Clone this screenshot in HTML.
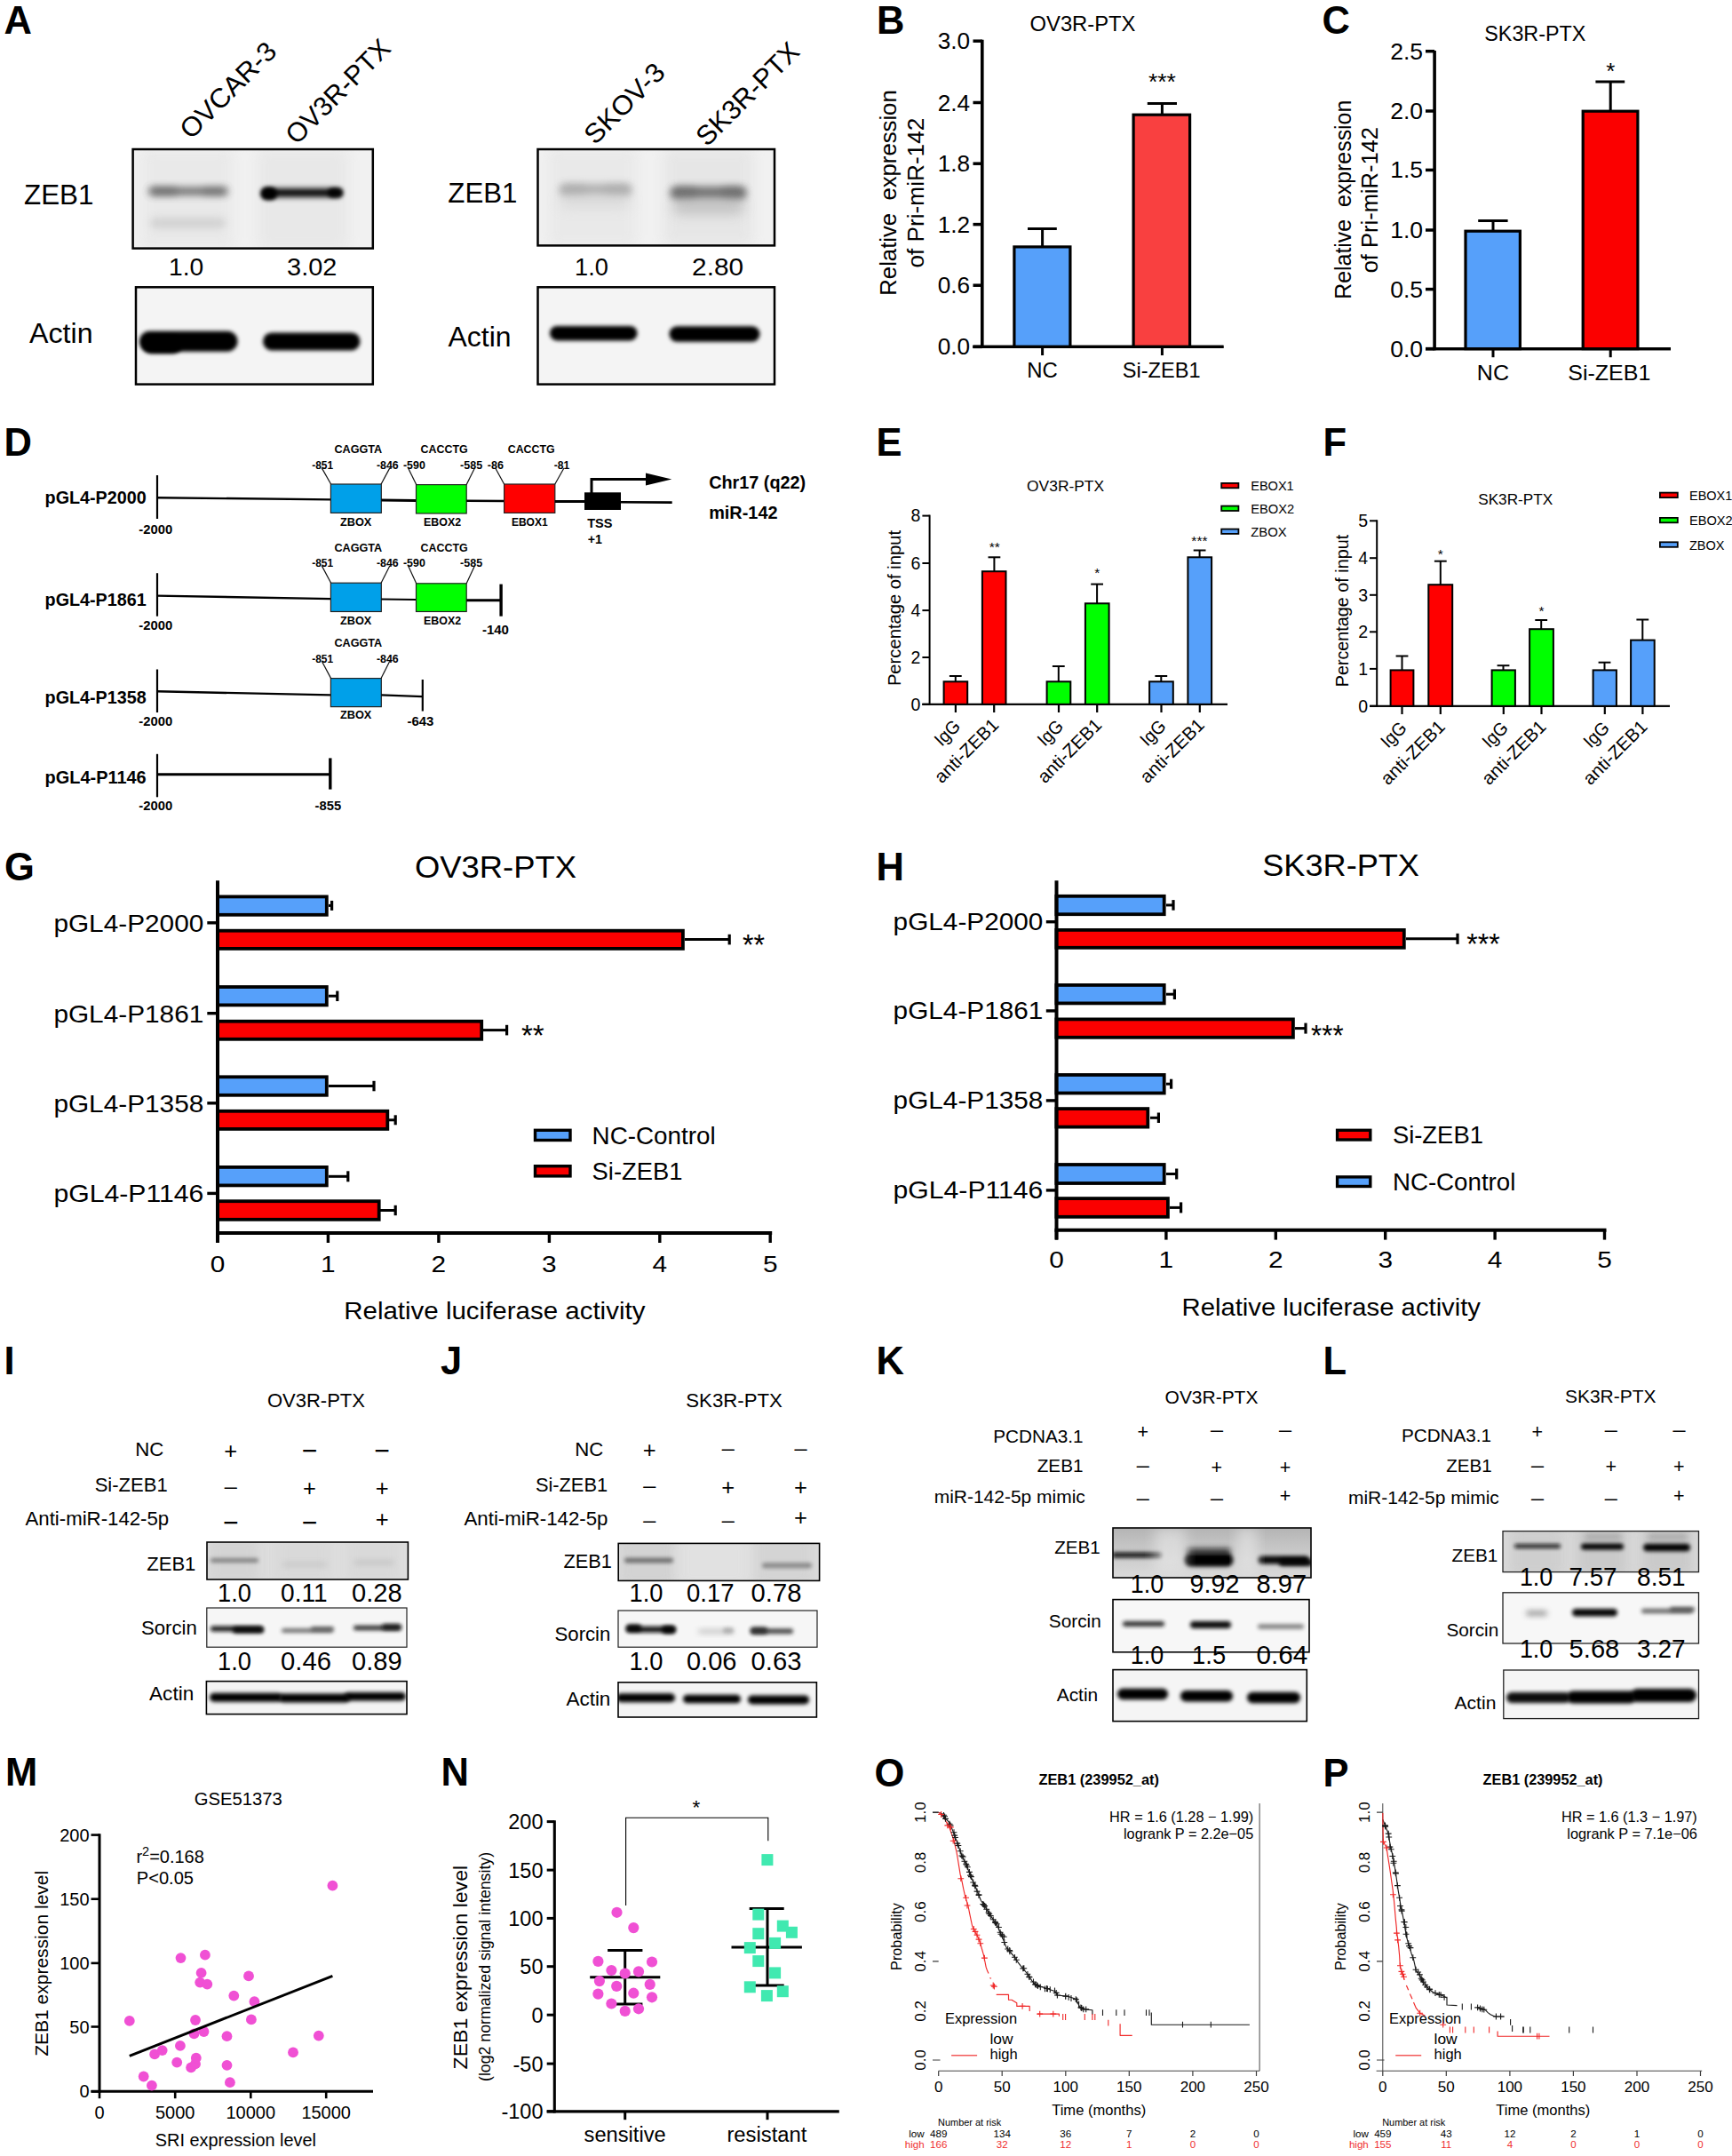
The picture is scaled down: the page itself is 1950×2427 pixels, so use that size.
<!DOCTYPE html>
<html><head><meta charset="utf-8"><title>Figure</title>
<style>
html,body{margin:0;padding:0;background:#fff;}
svg{display:block}
text{font-family:"Liberation Sans", Arial, Helvetica, sans-serif;white-space:pre}
</style></head><body>
<svg width="1950" height="2427" viewBox="0 0 1950 2427">
<defs>
<filter id="bl1" x="-30%" y="-100%" width="160%" height="300%"><feGaussianBlur stdDeviation="1.2"/></filter>
<filter id="bl2" x="-30%" y="-100%" width="160%" height="300%"><feGaussianBlur stdDeviation="2.0"/></filter>
<filter id="bl3" x="-30%" y="-100%" width="160%" height="300%"><feGaussianBlur stdDeviation="3.0"/></filter>
<filter id="bl4" x="-30%" y="-100%" width="160%" height="300%"><feGaussianBlur stdDeviation="4.5"/></filter>
<filter id="bl6" x="-30%" y="-100%" width="160%" height="300%"><feGaussianBlur stdDeviation="7"/></filter>
<clipPath id="cp1"><rect x="149.6" y="168.0" width="270.2" height="111.6"/></clipPath>
<clipPath id="cp2"><rect x="153.0" y="323.3" width="266.8" height="109.3"/></clipPath>
<clipPath id="cp3"><rect x="605.5" y="168.0" width="266.5" height="108.4"/></clipPath>
<clipPath id="cp4"><rect x="605.5" y="323.3" width="266.5" height="109.3"/></clipPath>
<clipPath id="cp5"><rect x="233.0" y="1736.0" width="226.4" height="42.0"/></clipPath>
<clipPath id="cp6"><rect x="232.8" y="1810.0" width="225.2" height="44.2"/></clipPath>
<clipPath id="cp7"><rect x="232.4" y="1892.6" width="225.6" height="37.0"/></clipPath>
<clipPath id="cp8"><rect x="696.2" y="1737.4" width="226.4" height="42.0"/></clipPath>
<clipPath id="cp9"><rect x="696.0" y="1813.0" width="224.0" height="41.2"/></clipPath>
<clipPath id="cp10"><rect x="696.0" y="1893.8" width="223.4" height="39.2"/></clipPath>
<linearGradient id="kg" x1="0" y1="0" x2="0" y2="1"><stop offset="0" stop-color="#b4b4b4"/><stop offset="0.35" stop-color="#c4c4c4"/><stop offset="1" stop-color="#dadada"/></linearGradient>
<clipPath id="cp11"><rect x="1253.0" y="1720.0" width="223.0" height="56.0"/></clipPath>
<clipPath id="cp12"><rect x="1253.0" y="1800.6" width="221.0" height="59.2"/></clipPath>
<clipPath id="cp13"><rect x="1253.0" y="1879.6" width="218.3" height="58.0"/></clipPath>
<clipPath id="cp14"><rect x="1692.0" y="1723.6" width="220.5" height="46.0"/></clipPath>
<clipPath id="cp15"><rect x="1692.0" y="1792.8" width="220.5" height="57.2"/></clipPath>
<clipPath id="cp16"><rect x="1692.8" y="1880.0" width="219.7" height="54.6"/></clipPath>
</defs>
<rect x="0" y="0" width="1950" height="2427" fill="#fff"/>
<text x="4.5" y="37.5" font-size="43.5" font-weight="bold">A</text>
<rect x="149.6" y="168.0" width="270.2" height="111.6" fill="#f1f1f1"/>
<g clip-path="url(#cp1)">
<rect x="160.0" y="168.0" width="102.0" height="112.0" rx="5.0" fill="#d8d8d8" opacity="0.3" filter="url(#bl6)"/>
<rect x="290.0" y="168.0" width="102.0" height="112.0" rx="5.0" fill="#d8d8d8" opacity="0.33" filter="url(#bl6)"/>
<rect x="168.0" y="211.1" width="88.0" height="8.5" rx="4.2" fill="#4a4a4a" opacity="0.8" filter="url(#bl4)"/>
<rect x="168.0" y="210.8" width="32.0" height="9.0" rx="4.5" fill="#4a4a4a" opacity="0.35" filter="url(#bl4)"/>
<rect x="228.0" y="210.8" width="28.0" height="9.0" rx="4.5" fill="#4a4a4a" opacity="0.25" filter="url(#bl4)"/>
<rect x="169.0" y="245.0" width="85.0" height="12.0" rx="6.0" fill="#bbb" opacity="0.5" filter="url(#bl4)"/>
<rect x="295.0" y="212.2" width="90.0" height="9.5" rx="4.8" fill="#000" opacity="1" filter="url(#bl3)"/>
<rect x="293.5" y="210.8" width="18.5" height="14.5" rx="7.2" fill="#000" opacity="1" filter="url(#bl2)"/>
<rect x="369.0" y="211.8" width="17.0" height="10.5" rx="5.2" fill="#000" opacity="0.9" filter="url(#bl2)"/>
</g>
<rect x="149.6" y="168.0" width="270.2" height="111.6" fill="none" stroke="#000" stroke-width="2.5"/>
<rect x="153.0" y="323.3" width="266.8" height="109.3" fill="#f4f4f4"/>
<g clip-path="url(#cp2)">
<rect x="157.0" y="372.7" width="110.5" height="23.0" rx="11.5" fill="#000" opacity="1" filter="url(#bl2)"/>
<rect x="160.0" y="378.0" width="45.0" height="20.0" rx="10.0" fill="#000" opacity="1" filter="url(#bl2)"/>
<rect x="296.0" y="374.4" width="109.5" height="20.0" rx="10.0" fill="#000" opacity="1" filter="url(#bl2)"/>
</g>
<rect x="153.0" y="323.3" width="266.8" height="109.3" fill="none" stroke="#000" stroke-width="2.5"/>
<text x="27.0" y="230.3" font-size="30.5" textLength="78.5" lengthAdjust="spacingAndGlyphs">ZEB1</text>
<text x="33.1" y="386.2" font-size="30.5" textLength="71.5" lengthAdjust="spacingAndGlyphs">Actin</text>
<text x="190.1" y="309.5" font-size="27.5" textLength="39.2" lengthAdjust="spacingAndGlyphs">1.0</text>
<text x="323.1" y="309.5" font-size="27.5" textLength="56.2" lengthAdjust="spacingAndGlyphs">3.02</text>
<text font-size="30.5" text-anchor="start" transform="translate(215.0 158.0) rotate(-45)" textLength="139.0" lengthAdjust="spacingAndGlyphs">OVCAR-3</text>
<text font-size="30.5" text-anchor="start" transform="translate(334.0 164.0) rotate(-45)" textLength="152.0" lengthAdjust="spacingAndGlyphs">OV3R-PTX</text>
<rect x="605.5" y="168.0" width="266.5" height="108.4" fill="#f1f1f1"/>
<g clip-path="url(#cp3)">
<rect x="618.0" y="167.0" width="98.0" height="110.0" rx="5.0" fill="#d8d8d8" opacity="0.3" filter="url(#bl6)"/>
<rect x="747.0" y="167.0" width="101.0" height="110.0" rx="5.0" fill="#d8d8d8" opacity="0.4" filter="url(#bl6)"/>
<rect x="630.0" y="207.1" width="81.0" height="13.0" rx="6.5" fill="#999" opacity="0.7" filter="url(#bl4)"/>
<rect x="630.0" y="207.1" width="30.0" height="13.0" rx="6.5" fill="#999" opacity="0.25" filter="url(#bl4)"/>
<rect x="680.0" y="207.1" width="31.0" height="13.0" rx="6.5" fill="#999" opacity="0.25" filter="url(#bl4)"/>
<rect x="630.0" y="218.0" width="80.0" height="16.0" rx="8.0" fill="#ccc" opacity="0.5" filter="url(#bl6)"/>
<rect x="755.0" y="210.0" width="85.0" height="14.0" rx="7.0" fill="#555" opacity="0.8" filter="url(#bl4)"/>
<rect x="755.0" y="210.0" width="30.0" height="14.0" rx="7.0" fill="#555" opacity="0.3" filter="url(#bl4)"/>
<rect x="812.0" y="210.0" width="28.0" height="14.0" rx="7.0" fill="#555" opacity="0.3" filter="url(#bl4)"/>
<rect x="757.0" y="223.0" width="81.0" height="18.0" rx="9.0" fill="#aaa" opacity="0.6" filter="url(#bl6)"/>
</g>
<rect x="605.5" y="168.0" width="266.5" height="108.4" fill="none" stroke="#000" stroke-width="2.5"/>
<rect x="605.5" y="323.3" width="266.5" height="109.3" fill="#f4f4f4"/>
<g clip-path="url(#cp4)">
<rect x="619.0" y="366.9" width="98.5" height="16.5" rx="8.2" fill="#000" opacity="1" filter="url(#bl2)"/>
<rect x="753.5" y="367.2" width="102.0" height="17.5" rx="8.8" fill="#000" opacity="1" filter="url(#bl2)"/>
</g>
<rect x="605.5" y="323.3" width="266.5" height="109.3" fill="none" stroke="#000" stroke-width="2.5"/>
<text x="504.3" y="227.7" font-size="30.5" textLength="78.2" lengthAdjust="spacingAndGlyphs">ZEB1</text>
<text x="504.5" y="390.2" font-size="30.5" textLength="71.0" lengthAdjust="spacingAndGlyphs">Actin</text>
<text x="647.1" y="309.5" font-size="27.5" textLength="37.8" lengthAdjust="spacingAndGlyphs">1.0</text>
<text x="779.1" y="309.5" font-size="27.5" textLength="58.0" lengthAdjust="spacingAndGlyphs">2.80</text>
<text font-size="30.5" text-anchor="start" transform="translate(670.0 164.0) rotate(-45)" textLength="114.0" lengthAdjust="spacingAndGlyphs">SKOV-3</text>
<text font-size="30.5" text-anchor="start" transform="translate(796.0 166.0) rotate(-45)" textLength="150.0" lengthAdjust="spacingAndGlyphs">SK3R-PTX</text>
<text x="987.0" y="37.5" font-size="43.5" font-weight="bold">B</text>
<text x="1219.0" y="35.4" font-size="23.5" text-anchor="middle" textLength="119.0" lengthAdjust="spacingAndGlyphs">OV3R-PTX</text>
<line x1="1105.8" y1="44.7" x2="1105.8" y2="392.0" stroke="#000" stroke-width="3.6" stroke-linecap="butt"/>
<line x1="1095.5" y1="390.4" x2="1377.5" y2="390.4" stroke="#000" stroke-width="3.4" stroke-linecap="butt"/>
<line x1="1095.5" y1="46.2" x2="1105.8" y2="46.2" stroke="#000" stroke-width="3.5" stroke-linecap="butt"/>
<text x="1055.7" y="55.2" font-size="26.0" textLength="36.4" lengthAdjust="spacingAndGlyphs">3.0</text>
<line x1="1095.5" y1="115.5" x2="1105.8" y2="115.5" stroke="#000" stroke-width="3.5" stroke-linecap="butt"/>
<text x="1055.7" y="124.5" font-size="26.0" textLength="36.4" lengthAdjust="spacingAndGlyphs">2.4</text>
<line x1="1095.5" y1="184.2" x2="1105.8" y2="184.2" stroke="#000" stroke-width="3.5" stroke-linecap="butt"/>
<text x="1055.7" y="193.2" font-size="26.0" textLength="36.4" lengthAdjust="spacingAndGlyphs">1.8</text>
<line x1="1095.5" y1="252.6" x2="1105.8" y2="252.6" stroke="#000" stroke-width="3.5" stroke-linecap="butt"/>
<text x="1055.7" y="261.6" font-size="26.0" textLength="36.4" lengthAdjust="spacingAndGlyphs">1.2</text>
<line x1="1095.5" y1="321.2" x2="1105.8" y2="321.2" stroke="#000" stroke-width="3.5" stroke-linecap="butt"/>
<text x="1055.7" y="330.2" font-size="26.0" textLength="36.4" lengthAdjust="spacingAndGlyphs">0.6</text>
<line x1="1095.5" y1="390.4" x2="1105.8" y2="390.4" stroke="#000" stroke-width="3.5" stroke-linecap="butt"/>
<text x="1055.7" y="399.4" font-size="26.0" textLength="36.4" lengthAdjust="spacingAndGlyphs">0.0</text>
<line x1="1173.6" y1="390.4" x2="1173.6" y2="400.0" stroke="#000" stroke-width="3" stroke-linecap="butt"/>
<line x1="1308.4" y1="390.4" x2="1308.4" y2="400.0" stroke="#000" stroke-width="3" stroke-linecap="butt"/>
<line x1="1173.6" y1="257.5" x2="1173.6" y2="278.0" stroke="#000" stroke-width="3" stroke-linecap="butt"/>
<line x1="1157.0" y1="257.5" x2="1189.8" y2="257.5" stroke="#000" stroke-width="3" stroke-linecap="butt"/>
<line x1="1308.4" y1="116.5" x2="1308.4" y2="130.0" stroke="#000" stroke-width="3" stroke-linecap="butt"/>
<line x1="1291.8" y1="116.5" x2="1325.0" y2="116.5" stroke="#000" stroke-width="3" stroke-linecap="butt"/>
<rect x="1141.9" y="277.9" width="63.0" height="112.5" fill="#56a0fa" stroke="#000" stroke-width="3.2"/>
<rect x="1276.1" y="129.2" width="63.5" height="261.2" fill="#f94040" stroke="#000" stroke-width="3.2"/>
<line x1="1095.5" y1="390.4" x2="1377.5" y2="390.4" stroke="#000" stroke-width="3.4" stroke-linecap="butt"/>
<text x="1156.3" y="425.2" font-size="24.5" textLength="34.5" lengthAdjust="spacingAndGlyphs">NC</text>
<text x="1263.8" y="425.2" font-size="24.5" textLength="87.7" lengthAdjust="spacingAndGlyphs">Si-ZEB1</text>
<text x="1308.4" y="100.5" font-size="26.0" text-anchor="middle" textLength="31.0" lengthAdjust="spacingAndGlyphs">***</text>
<text font-size="25.5" textLength="231.4" lengthAdjust="spacingAndGlyphs" transform="translate(1009.2 332.7) rotate(-90)">Relative  expression</text>
<text font-size="25.5" textLength="168.8" lengthAdjust="spacingAndGlyphs" transform="translate(1039.6 301.5) rotate(-90)">of Pri-miR-142</text>
<text x="1488.5" y="37.5" font-size="43.5" font-weight="bold">C</text>
<text x="1728.3" y="45.7" font-size="23.5" text-anchor="middle" textLength="114.0" lengthAdjust="spacingAndGlyphs">SK3R-PTX</text>
<line x1="1615.1" y1="56.9" x2="1615.1" y2="394.2" stroke="#000" stroke-width="3.6" stroke-linecap="butt"/>
<line x1="1605.0" y1="392.6" x2="1881.0" y2="392.6" stroke="#000" stroke-width="3.4" stroke-linecap="butt"/>
<line x1="1605.0" y1="57.7" x2="1615.1" y2="57.7" stroke="#000" stroke-width="3.5" stroke-linecap="butt"/>
<text x="1565.2" y="66.7" font-size="26.0" textLength="36.9" lengthAdjust="spacingAndGlyphs">2.5</text>
<line x1="1605.0" y1="125.0" x2="1615.1" y2="125.0" stroke="#000" stroke-width="3.5" stroke-linecap="butt"/>
<text x="1565.2" y="134.0" font-size="26.0" textLength="36.9" lengthAdjust="spacingAndGlyphs">2.0</text>
<line x1="1605.0" y1="191.4" x2="1615.1" y2="191.4" stroke="#000" stroke-width="3.5" stroke-linecap="butt"/>
<text x="1565.2" y="200.4" font-size="26.0" textLength="36.9" lengthAdjust="spacingAndGlyphs">1.5</text>
<line x1="1605.0" y1="259.0" x2="1615.1" y2="259.0" stroke="#000" stroke-width="3.5" stroke-linecap="butt"/>
<text x="1565.2" y="268.0" font-size="26.0" textLength="36.9" lengthAdjust="spacingAndGlyphs">1.0</text>
<line x1="1605.0" y1="325.6" x2="1615.1" y2="325.6" stroke="#000" stroke-width="3.5" stroke-linecap="butt"/>
<text x="1565.2" y="334.6" font-size="26.0" textLength="36.9" lengthAdjust="spacingAndGlyphs">0.5</text>
<line x1="1605.0" y1="392.6" x2="1615.1" y2="392.6" stroke="#000" stroke-width="3.5" stroke-linecap="butt"/>
<text x="1565.2" y="401.6" font-size="26.0" textLength="36.9" lengthAdjust="spacingAndGlyphs">0.0</text>
<line x1="1681.0" y1="392.6" x2="1681.0" y2="402.2" stroke="#000" stroke-width="3" stroke-linecap="butt"/>
<line x1="1813.2" y1="392.6" x2="1813.2" y2="402.2" stroke="#000" stroke-width="3" stroke-linecap="butt"/>
<line x1="1681.0" y1="248.5" x2="1681.0" y2="261.0" stroke="#000" stroke-width="3" stroke-linecap="butt"/>
<line x1="1664.2" y1="248.5" x2="1697.6" y2="248.5" stroke="#000" stroke-width="3" stroke-linecap="butt"/>
<line x1="1813.2" y1="92.0" x2="1813.2" y2="126.0" stroke="#000" stroke-width="3" stroke-linecap="butt"/>
<line x1="1796.4" y1="92.0" x2="1829.2" y2="92.0" stroke="#000" stroke-width="3" stroke-linecap="butt"/>
<rect x="1650.0" y="260.2" width="61.4" height="132.4" fill="#56a0fa" stroke="#000" stroke-width="3.2"/>
<rect x="1782.2" y="125.2" width="61.7" height="267.4" fill="#fb0000" stroke="#000" stroke-width="3.2"/>
<line x1="1605.0" y1="392.6" x2="1881.0" y2="392.6" stroke="#000" stroke-width="3.4" stroke-linecap="butt"/>
<text x="1662.8" y="427.5" font-size="24.5" textLength="36.2" lengthAdjust="spacingAndGlyphs">NC</text>
<text x="1765.3" y="427.5" font-size="24.5" textLength="93.0" lengthAdjust="spacingAndGlyphs">Si-ZEB1</text>
<text x="1813.2" y="88.5" font-size="26.0" text-anchor="middle">*</text>
<text font-size="25.5" textLength="224.1" lengthAdjust="spacingAndGlyphs" transform="translate(1520.9 336.8) rotate(-90)">Relative  expression</text>
<text font-size="25.5" textLength="164.2" lengthAdjust="spacingAndGlyphs" transform="translate(1551.2 307.3) rotate(-90)">of Pri-miR-142</text>
<text x="4.5" y="512.8" font-size="43.5" font-weight="bold">D</text>
<text x="50.6" y="566.8" font-size="19.6" textLength="114.1" lengthAdjust="spacingAndGlyphs" font-weight="bold">pGL4-P2000</text>
<line x1="177.0" y1="535.0" x2="177.0" y2="584.0" stroke="#000" stroke-width="2.2" stroke-linecap="butt"/>
<text x="156.3" y="601.4" font-size="14.5" textLength="37.9" lengthAdjust="spacingAndGlyphs" font-weight="bold">-2000</text>
<line x1="177.0" y1="560.2" x2="372.6" y2="562.4" stroke="#000" stroke-width="2.4" stroke-linecap="butt"/>
<rect x="372.4" y="545.0" width="56.9" height="32.4" fill="#00a0e9" stroke="#222" stroke-width="1.2"/>
<text x="376.4" y="510.0" font-size="12.2" textLength="53.8" lengthAdjust="spacingAndGlyphs" font-weight="bold">CAGGTA</text>
<text x="351.2" y="528.4" font-size="12.8" textLength="23.9" lengthAdjust="spacingAndGlyphs" font-weight="bold">-851</text>
<text x="424.0" y="528.4" font-size="12.8" textLength="24.7" lengthAdjust="spacingAndGlyphs" font-weight="bold">-846</text>
<line x1="362.3" y1="526.9" x2="372.6" y2="545.0" stroke="#111" stroke-width="1.2" stroke-linecap="butt"/>
<line x1="438.8" y1="526.9" x2="429.1" y2="545.0" stroke="#111" stroke-width="1.2" stroke-linecap="butt"/>
<text x="383.0" y="592.0" font-size="12.2" textLength="35.3" lengthAdjust="spacingAndGlyphs" font-weight="bold">ZBOX</text>
<text x="50.6" y="682.3" font-size="19.6" textLength="114.1" lengthAdjust="spacingAndGlyphs" font-weight="bold">pGL4-P1861</text>
<line x1="177.0" y1="645.2" x2="177.0" y2="693.7" stroke="#000" stroke-width="2.2" stroke-linecap="butt"/>
<text x="156.3" y="709.1" font-size="14.5" textLength="37.9" lengthAdjust="spacingAndGlyphs" font-weight="bold">-2000</text>
<line x1="177.0" y1="670.6" x2="372.6" y2="674.1" stroke="#000" stroke-width="2.4" stroke-linecap="butt"/>
<rect x="372.4" y="656.2" width="56.9" height="32.3" fill="#00a0e9" stroke="#222" stroke-width="1.2"/>
<text x="376.4" y="620.9" font-size="12.2" textLength="53.8" lengthAdjust="spacingAndGlyphs" font-weight="bold">CAGGTA</text>
<text x="351.2" y="638.4" font-size="12.8" textLength="23.9" lengthAdjust="spacingAndGlyphs" font-weight="bold">-851</text>
<text x="424.0" y="638.4" font-size="12.8" textLength="24.7" lengthAdjust="spacingAndGlyphs" font-weight="bold">-846</text>
<line x1="362.3" y1="636.9" x2="372.6" y2="656.2" stroke="#111" stroke-width="1.2" stroke-linecap="butt"/>
<line x1="438.8" y1="636.9" x2="429.1" y2="656.2" stroke="#111" stroke-width="1.2" stroke-linecap="butt"/>
<text x="383.0" y="702.5" font-size="12.2" textLength="35.3" lengthAdjust="spacingAndGlyphs" font-weight="bold">ZBOX</text>
<text x="50.6" y="792.0" font-size="19.6" textLength="114.1" lengthAdjust="spacingAndGlyphs" font-weight="bold">pGL4-P1358</text>
<line x1="177.0" y1="753.5" x2="177.0" y2="802.0" stroke="#000" stroke-width="2.2" stroke-linecap="butt"/>
<text x="156.3" y="816.5" font-size="14.5" textLength="37.9" lengthAdjust="spacingAndGlyphs" font-weight="bold">-2000</text>
<line x1="177.0" y1="778.3" x2="372.6" y2="782.4" stroke="#000" stroke-width="2.4" stroke-linecap="butt"/>
<rect x="372.4" y="763.6" width="56.9" height="32.0" fill="#00a0e9" stroke="#222" stroke-width="1.2"/>
<text x="376.4" y="728.0" font-size="12.2" textLength="53.8" lengthAdjust="spacingAndGlyphs" font-weight="bold">CAGGTA</text>
<text x="351.2" y="745.8" font-size="12.8" textLength="23.9" lengthAdjust="spacingAndGlyphs" font-weight="bold">-851</text>
<text x="424.0" y="745.8" font-size="12.8" textLength="24.7" lengthAdjust="spacingAndGlyphs" font-weight="bold">-846</text>
<line x1="362.3" y1="744.3" x2="372.6" y2="763.6" stroke="#111" stroke-width="1.2" stroke-linecap="butt"/>
<line x1="438.8" y1="744.3" x2="429.1" y2="763.6" stroke="#111" stroke-width="1.2" stroke-linecap="butt"/>
<text x="383.0" y="809.3" font-size="12.2" textLength="35.3" lengthAdjust="spacingAndGlyphs" font-weight="bold">ZBOX</text>
<text x="50.6" y="881.5" font-size="19.6" textLength="114.1" lengthAdjust="spacingAndGlyphs" font-weight="bold">pGL4-P1146</text>
<line x1="177.0" y1="848.8" x2="177.0" y2="897.3" stroke="#000" stroke-width="2.2" stroke-linecap="butt"/>
<text x="156.3" y="911.8" font-size="14.5" textLength="37.9" lengthAdjust="spacingAndGlyphs" font-weight="bold">-2000</text>
<line x1="429.3" y1="563.0" x2="468.5" y2="563.4" stroke="#000" stroke-width="3" stroke-linecap="butt"/>
<rect x="468.5" y="545.6" width="56.7" height="32.4" fill="#00ff00" stroke="#222" stroke-width="1.2"/>
<line x1="525.2" y1="563.8" x2="567.6" y2="564.0" stroke="#000" stroke-width="2.6" stroke-linecap="butt"/>
<rect x="567.6" y="545.0" width="57.2" height="32.4" fill="#ff0000" stroke="#222" stroke-width="1.2"/>
<line x1="624.8" y1="564.4" x2="658.0" y2="564.6" stroke="#000" stroke-width="3" stroke-linecap="butt"/>
<rect x="658.0" y="554.3" width="41.0" height="19.7" fill="#000" stroke="none" stroke-width="0"/>
<line x1="699.0" y1="565.2" x2="756.7" y2="565.6" stroke="#000" stroke-width="2.6" stroke-linecap="butt"/>
<path d="M666,555 V539.4 H728" fill="none" stroke="#000" stroke-width="3"/>
<path d="M727,532.6 L756.3,539.6 L727,546.6 Z" fill="#000"/>
<text x="473.6" y="510.0" font-size="12.2" textLength="53.0" lengthAdjust="spacingAndGlyphs" font-weight="bold">CACCTG</text>
<text x="571.8" y="510.0" font-size="12.2" textLength="52.7" lengthAdjust="spacingAndGlyphs" font-weight="bold">CACCTG</text>
<text x="454.0" y="528.4" font-size="12.8" textLength="24.8" lengthAdjust="spacingAndGlyphs" font-weight="bold">-590</text>
<text x="518.1" y="528.4" font-size="12.8" textLength="25.1" lengthAdjust="spacingAndGlyphs" font-weight="bold">-585</text>
<text x="548.7" y="528.4" font-size="12.8" textLength="18.2" lengthAdjust="spacingAndGlyphs" font-weight="bold">-86</text>
<text x="623.8" y="528.4" font-size="12.8" textLength="17.5" lengthAdjust="spacingAndGlyphs" font-weight="bold">-81</text>
<line x1="459.6" y1="527.0" x2="468.7" y2="545.6" stroke="#111" stroke-width="1.2" stroke-linecap="butt"/>
<line x1="534.4" y1="527.0" x2="525.2" y2="545.6" stroke="#111" stroke-width="1.2" stroke-linecap="butt"/>
<line x1="557.8" y1="527.0" x2="567.6" y2="545.0" stroke="#111" stroke-width="1.2" stroke-linecap="butt"/>
<line x1="634.9" y1="527.0" x2="624.8" y2="545.0" stroke="#111" stroke-width="1.2" stroke-linecap="butt"/>
<text x="477.1" y="592.0" font-size="12.2" textLength="42.0" lengthAdjust="spacingAndGlyphs" font-weight="bold">EBOX2</text>
<text x="575.9" y="592.0" font-size="12.2" textLength="40.8" lengthAdjust="spacingAndGlyphs" font-weight="bold">EBOX1</text>
<text x="661.2" y="593.7" font-size="14.2" textLength="28.3" lengthAdjust="spacingAndGlyphs" font-weight="bold">TSS</text>
<text x="661.8" y="611.6" font-size="14.2" textLength="16.2" lengthAdjust="spacingAndGlyphs" font-weight="bold">+1</text>
<text x="798.2" y="549.5" font-size="19.8" textLength="109.0" lengthAdjust="spacingAndGlyphs" font-weight="bold">Chr17 (q22)</text>
<text x="798.2" y="583.6" font-size="19.8" textLength="77.3" lengthAdjust="spacingAndGlyphs" font-weight="bold">miR-142</text>
<line x1="429.3" y1="674.4" x2="468.5" y2="675.0" stroke="#000" stroke-width="2" stroke-linecap="butt"/>
<rect x="468.5" y="656.8" width="56.7" height="31.7" fill="#00ff00" stroke="#222" stroke-width="1.2"/>
<line x1="525.2" y1="675.8" x2="564.1" y2="675.8" stroke="#000" stroke-width="3" stroke-linecap="butt"/>
<line x1="564.1" y1="657.6" x2="564.1" y2="693.7" stroke="#000" stroke-width="3.4" stroke-linecap="butt"/>
<text x="473.6" y="620.9" font-size="12.2" textLength="53.0" lengthAdjust="spacingAndGlyphs" font-weight="bold">CACCTG</text>
<text x="454.0" y="638.4" font-size="12.8" textLength="24.8" lengthAdjust="spacingAndGlyphs" font-weight="bold">-590</text>
<text x="518.1" y="638.4" font-size="12.8" textLength="25.1" lengthAdjust="spacingAndGlyphs" font-weight="bold">-585</text>
<line x1="459.6" y1="637.0" x2="468.7" y2="656.8" stroke="#111" stroke-width="1.2" stroke-linecap="butt"/>
<line x1="534.4" y1="637.0" x2="525.2" y2="656.8" stroke="#111" stroke-width="1.2" stroke-linecap="butt"/>
<text x="477.1" y="702.5" font-size="12.2" textLength="42.0" lengthAdjust="spacingAndGlyphs" font-weight="bold">EBOX2</text>
<text x="542.9" y="714.1" font-size="14.5" textLength="30.1" lengthAdjust="spacingAndGlyphs" font-weight="bold">-140</text>
<line x1="429.3" y1="782.4" x2="475.8" y2="784.1" stroke="#000" stroke-width="2.2" stroke-linecap="butt"/>
<line x1="475.8" y1="765.0" x2="475.8" y2="800.5" stroke="#000" stroke-width="2.2" stroke-linecap="butt"/>
<text x="458.5" y="816.5" font-size="14.5" textLength="29.8" lengthAdjust="spacingAndGlyphs" font-weight="bold">-643</text>
<line x1="177.0" y1="871.8" x2="371.8" y2="871.8" stroke="#000" stroke-width="3" stroke-linecap="butt"/>
<line x1="371.8" y1="853.4" x2="371.8" y2="888.6" stroke="#000" stroke-width="3.4" stroke-linecap="butt"/>
<text x="354.6" y="911.8" font-size="14.5" textLength="29.5" lengthAdjust="spacingAndGlyphs" font-weight="bold">-855</text>
<text x="986.5" y="512.8" font-size="43.5" font-weight="bold">E</text>
<text x="1199.6" y="553.2" font-size="17.0" text-anchor="middle" textLength="87.0" lengthAdjust="spacingAndGlyphs">OV3R-PTX</text>
<line x1="1046.6" y1="579.6" x2="1046.6" y2="793.8" stroke="#000" stroke-width="2" stroke-linecap="butt"/>
<line x1="1038.4" y1="792.8" x2="1382.0" y2="792.8" stroke="#000" stroke-width="2" stroke-linecap="butt"/>
<line x1="1038.4" y1="580.6" x2="1046.6" y2="580.6" stroke="#000" stroke-width="2" stroke-linecap="butt"/>
<text x="1036.4" y="587.4" font-size="19.5" text-anchor="end">8</text>
<line x1="1038.4" y1="634.0" x2="1046.6" y2="634.0" stroke="#000" stroke-width="2" stroke-linecap="butt"/>
<text x="1036.4" y="640.8" font-size="19.5" text-anchor="end">6</text>
<line x1="1038.4" y1="687.1" x2="1046.6" y2="687.1" stroke="#000" stroke-width="2" stroke-linecap="butt"/>
<text x="1036.4" y="693.9" font-size="19.5" text-anchor="end">4</text>
<line x1="1038.4" y1="740.0" x2="1046.6" y2="740.0" stroke="#000" stroke-width="2" stroke-linecap="butt"/>
<text x="1036.4" y="746.8" font-size="19.5" text-anchor="end">2</text>
<line x1="1038.4" y1="792.8" x2="1046.6" y2="792.8" stroke="#000" stroke-width="2" stroke-linecap="butt"/>
<text x="1036.4" y="799.6" font-size="19.5" text-anchor="end">0</text>
<line x1="1075.8" y1="761.0" x2="1075.8" y2="768.3" stroke="#000" stroke-width="2" stroke-linecap="butt"/>
<line x1="1068.9" y1="761.0" x2="1082.7" y2="761.0" stroke="#000" stroke-width="2" stroke-linecap="butt"/>
<line x1="1119.4" y1="627.3" x2="1119.4" y2="644.2" stroke="#000" stroke-width="2" stroke-linecap="butt"/>
<line x1="1112.5" y1="627.3" x2="1126.3" y2="627.3" stroke="#000" stroke-width="2" stroke-linecap="butt"/>
<line x1="1191.8" y1="750.0" x2="1191.8" y2="768.3" stroke="#000" stroke-width="2" stroke-linecap="butt"/>
<line x1="1184.9" y1="750.0" x2="1198.7" y2="750.0" stroke="#000" stroke-width="2" stroke-linecap="butt"/>
<line x1="1235.1" y1="657.6" x2="1235.1" y2="680.3" stroke="#000" stroke-width="2" stroke-linecap="butt"/>
<line x1="1228.2" y1="657.6" x2="1242.0" y2="657.6" stroke="#000" stroke-width="2" stroke-linecap="butt"/>
<line x1="1307.3" y1="761.0" x2="1307.3" y2="768.3" stroke="#000" stroke-width="2" stroke-linecap="butt"/>
<line x1="1300.4" y1="761.0" x2="1314.2" y2="761.0" stroke="#000" stroke-width="2" stroke-linecap="butt"/>
<line x1="1350.6" y1="619.5" x2="1350.6" y2="628.3" stroke="#000" stroke-width="2" stroke-linecap="butt"/>
<line x1="1343.7" y1="619.5" x2="1357.5" y2="619.5" stroke="#000" stroke-width="2" stroke-linecap="butt"/>
<rect x="1062.6" y="767.3" width="26.6" height="25.5" fill="#ff0000" stroke="#000" stroke-width="2"/>
<line x1="1075.9" y1="792.8" x2="1075.9" y2="802.0" stroke="#000" stroke-width="2.2" stroke-linecap="butt"/>
<rect x="1105.9" y="643.2" width="26.6" height="149.6" fill="#ff0000" stroke="#000" stroke-width="2"/>
<line x1="1119.2" y1="792.8" x2="1119.2" y2="802.0" stroke="#000" stroke-width="2.2" stroke-linecap="butt"/>
<rect x="1178.6" y="767.3" width="26.7" height="25.5" fill="#00ff00" stroke="#000" stroke-width="2"/>
<line x1="1192.0" y1="792.8" x2="1192.0" y2="802.0" stroke="#000" stroke-width="2.2" stroke-linecap="butt"/>
<rect x="1221.9" y="679.3" width="26.7" height="113.5" fill="#00ff00" stroke="#000" stroke-width="2"/>
<line x1="1235.2" y1="792.8" x2="1235.2" y2="802.0" stroke="#000" stroke-width="2.2" stroke-linecap="butt"/>
<rect x="1294.1" y="767.3" width="26.7" height="25.5" fill="#56a0fa" stroke="#000" stroke-width="2"/>
<line x1="1307.5" y1="792.8" x2="1307.5" y2="802.0" stroke="#000" stroke-width="2.2" stroke-linecap="butt"/>
<rect x="1337.4" y="627.3" width="26.7" height="165.5" fill="#56a0fa" stroke="#000" stroke-width="2"/>
<line x1="1350.8" y1="792.8" x2="1350.8" y2="802.0" stroke="#000" stroke-width="2.2" stroke-linecap="butt"/>
<line x1="1038.4" y1="792.8" x2="1382.0" y2="792.8" stroke="#000" stroke-width="1.8" stroke-linecap="butt"/>
<text font-size="20.5" text-anchor="end" transform="translate(1082.4 818.8) rotate(-45)" textLength="31.5" lengthAdjust="spacingAndGlyphs">IgG</text>
<text font-size="20.5" text-anchor="end" transform="translate(1125.7 817.3) rotate(-45)" textLength="92.5" lengthAdjust="spacingAndGlyphs">anti-ZEB1</text>
<text font-size="20.5" text-anchor="end" transform="translate(1198.5 818.8) rotate(-45)" textLength="31.5" lengthAdjust="spacingAndGlyphs">IgG</text>
<text font-size="20.5" text-anchor="end" transform="translate(1241.8 817.3) rotate(-45)" textLength="92.5" lengthAdjust="spacingAndGlyphs">anti-ZEB1</text>
<text font-size="20.5" text-anchor="end" transform="translate(1314.0 818.8) rotate(-45)" textLength="31.5" lengthAdjust="spacingAndGlyphs">IgG</text>
<text font-size="20.5" text-anchor="end" transform="translate(1357.2 817.3) rotate(-45)" textLength="92.5" lengthAdjust="spacingAndGlyphs">anti-ZEB1</text>
<text x="1119.8" y="621.3" font-size="15.5" text-anchor="middle">**</text>
<text x="1235.2" y="650.0" font-size="15.5" text-anchor="middle">*</text>
<text x="1350.4" y="614.0" font-size="15.5" text-anchor="middle">***</text>
<text font-size="20.0" textLength="175.2" lengthAdjust="spacingAndGlyphs" transform="translate(1014.2 772.1) rotate(-90)">Percentage of input</text>
<rect x="1375.2" y="543.9" width="19.2" height="5.4" fill="#ff0000" stroke="#000" stroke-width="1.8"/>
<text x="1408.2" y="552.4" font-size="14.2" textLength="48.5" lengthAdjust="spacingAndGlyphs">EBOX1</text>
<rect x="1375.2" y="569.6" width="19.2" height="5.4" fill="#00ff00" stroke="#000" stroke-width="1.8"/>
<text x="1408.2" y="577.8" font-size="14.2" textLength="49.0" lengthAdjust="spacingAndGlyphs">EBOX2</text>
<rect x="1375.2" y="595.6" width="19.2" height="5.3" fill="#56a0fa" stroke="#000" stroke-width="1.8"/>
<text x="1408.2" y="603.5" font-size="14.2" textLength="40.4" lengthAdjust="spacingAndGlyphs">ZBOX</text>
<text x="1489.5" y="512.8" font-size="43.5" font-weight="bold">F</text>
<text x="1706.2" y="567.7" font-size="17.0" text-anchor="middle" textLength="84.0" lengthAdjust="spacingAndGlyphs">SK3R-PTX</text>
<line x1="1550.2" y1="585.3" x2="1550.2" y2="795.8" stroke="#000" stroke-width="2" stroke-linecap="butt"/>
<line x1="1542.0" y1="794.8" x2="1880.0" y2="794.8" stroke="#000" stroke-width="2" stroke-linecap="butt"/>
<line x1="1542.0" y1="586.3" x2="1550.2" y2="586.3" stroke="#000" stroke-width="2" stroke-linecap="butt"/>
<text x="1540.0" y="593.1" font-size="19.5" text-anchor="end">5</text>
<line x1="1542.0" y1="628.2" x2="1550.2" y2="628.2" stroke="#000" stroke-width="2" stroke-linecap="butt"/>
<text x="1540.0" y="635.0" font-size="19.5" text-anchor="end">4</text>
<line x1="1542.0" y1="669.8" x2="1550.2" y2="669.8" stroke="#000" stroke-width="2" stroke-linecap="butt"/>
<text x="1540.0" y="676.6" font-size="19.5" text-anchor="end">3</text>
<line x1="1542.0" y1="711.3" x2="1550.2" y2="711.3" stroke="#000" stroke-width="2" stroke-linecap="butt"/>
<text x="1540.0" y="718.1" font-size="19.5" text-anchor="end">2</text>
<line x1="1542.0" y1="752.9" x2="1550.2" y2="752.9" stroke="#000" stroke-width="2" stroke-linecap="butt"/>
<text x="1540.0" y="759.7" font-size="19.5" text-anchor="end">1</text>
<line x1="1542.0" y1="794.8" x2="1550.2" y2="794.8" stroke="#000" stroke-width="2" stroke-linecap="butt"/>
<text x="1540.0" y="801.6" font-size="19.5" text-anchor="end">0</text>
<line x1="1578.5" y1="738.5" x2="1578.5" y2="755.4" stroke="#000" stroke-width="2" stroke-linecap="butt"/>
<line x1="1571.6" y1="738.5" x2="1585.4" y2="738.5" stroke="#000" stroke-width="2" stroke-linecap="butt"/>
<line x1="1621.8" y1="631.7" x2="1621.8" y2="659.2" stroke="#000" stroke-width="2" stroke-linecap="butt"/>
<line x1="1614.9" y1="631.7" x2="1628.7" y2="631.7" stroke="#000" stroke-width="2" stroke-linecap="butt"/>
<line x1="1692.5" y1="749.2" x2="1692.5" y2="755.4" stroke="#000" stroke-width="2" stroke-linecap="butt"/>
<line x1="1685.6" y1="749.2" x2="1699.4" y2="749.2" stroke="#000" stroke-width="2" stroke-linecap="butt"/>
<line x1="1735.2" y1="698.0" x2="1735.2" y2="709.2" stroke="#000" stroke-width="2" stroke-linecap="butt"/>
<line x1="1728.3" y1="698.0" x2="1742.1" y2="698.0" stroke="#000" stroke-width="2" stroke-linecap="butt"/>
<line x1="1806.5" y1="745.7" x2="1806.5" y2="755.4" stroke="#000" stroke-width="2" stroke-linecap="butt"/>
<line x1="1799.6" y1="745.7" x2="1813.4" y2="745.7" stroke="#000" stroke-width="2" stroke-linecap="butt"/>
<line x1="1849.3" y1="697.5" x2="1849.3" y2="721.6" stroke="#000" stroke-width="2" stroke-linecap="butt"/>
<line x1="1842.4" y1="697.5" x2="1856.2" y2="697.5" stroke="#000" stroke-width="2" stroke-linecap="butt"/>
<rect x="1565.6" y="754.4" width="25.8" height="40.4" fill="#ff0000" stroke="#000" stroke-width="2"/>
<line x1="1578.5" y1="794.8" x2="1578.5" y2="804.0" stroke="#000" stroke-width="2.2" stroke-linecap="butt"/>
<rect x="1608.3" y="658.2" width="26.9" height="136.6" fill="#ff0000" stroke="#000" stroke-width="2"/>
<line x1="1621.8" y1="794.8" x2="1621.8" y2="804.0" stroke="#000" stroke-width="2.2" stroke-linecap="butt"/>
<rect x="1679.6" y="754.4" width="26.3" height="40.4" fill="#00ff00" stroke="#000" stroke-width="2"/>
<line x1="1692.8" y1="794.8" x2="1692.8" y2="804.0" stroke="#000" stroke-width="2.2" stroke-linecap="butt"/>
<rect x="1722.1" y="708.2" width="26.8" height="86.6" fill="#00ff00" stroke="#000" stroke-width="2"/>
<line x1="1735.5" y1="794.8" x2="1735.5" y2="804.0" stroke="#000" stroke-width="2.2" stroke-linecap="butt"/>
<rect x="1793.6" y="754.4" width="26.3" height="40.4" fill="#56a0fa" stroke="#000" stroke-width="2"/>
<line x1="1806.8" y1="794.8" x2="1806.8" y2="804.0" stroke="#000" stroke-width="2.2" stroke-linecap="butt"/>
<rect x="1836.1" y="720.6" width="26.6" height="74.2" fill="#56a0fa" stroke="#000" stroke-width="2"/>
<line x1="1849.4" y1="794.8" x2="1849.4" y2="804.0" stroke="#000" stroke-width="2.2" stroke-linecap="butt"/>
<line x1="1542.0" y1="794.8" x2="1880.0" y2="794.8" stroke="#000" stroke-width="1.8" stroke-linecap="butt"/>
<text font-size="20.5" text-anchor="end" transform="translate(1585.0 820.8) rotate(-45)" textLength="31.5" lengthAdjust="spacingAndGlyphs">IgG</text>
<text font-size="20.5" text-anchor="end" transform="translate(1628.2 819.3) rotate(-45)" textLength="92.5" lengthAdjust="spacingAndGlyphs">anti-ZEB1</text>
<text font-size="20.5" text-anchor="end" transform="translate(1699.2 820.8) rotate(-45)" textLength="31.5" lengthAdjust="spacingAndGlyphs">IgG</text>
<text font-size="20.5" text-anchor="end" transform="translate(1742.0 819.3) rotate(-45)" textLength="92.5" lengthAdjust="spacingAndGlyphs">anti-ZEB1</text>
<text font-size="20.5" text-anchor="end" transform="translate(1813.2 820.8) rotate(-45)" textLength="31.5" lengthAdjust="spacingAndGlyphs">IgG</text>
<text font-size="20.5" text-anchor="end" transform="translate(1855.9 819.3) rotate(-45)" textLength="92.5" lengthAdjust="spacingAndGlyphs">anti-ZEB1</text>
<text x="1621.8" y="628.5" font-size="15.5" text-anchor="middle">*</text>
<text x="1735.4" y="693.0" font-size="15.5" text-anchor="middle">*</text>
<text font-size="20.0" textLength="171.5" lengthAdjust="spacingAndGlyphs" transform="translate(1518.3 773.3) rotate(-90)">Percentage of input</text>
<rect x="1868.9" y="554.6" width="19.9" height="5.5" fill="#ff0000" stroke="#000" stroke-width="1.8"/>
<text x="1902.0" y="563.1" font-size="14.2" textLength="48.2" lengthAdjust="spacingAndGlyphs">EBOX1</text>
<rect x="1868.9" y="582.9" width="19.9" height="5.4" fill="#00ff00" stroke="#000" stroke-width="1.8"/>
<text x="1902.0" y="591.0" font-size="14.2" textLength="48.7" lengthAdjust="spacingAndGlyphs">EBOX2</text>
<rect x="1868.9" y="610.3" width="19.9" height="5.5" fill="#56a0fa" stroke="#000" stroke-width="1.8"/>
<text x="1902.0" y="618.6" font-size="14.2" textLength="39.5" lengthAdjust="spacingAndGlyphs">ZBOX</text>
<text x="5.0" y="990.7" font-size="43.5" font-weight="bold">G</text>
<text x="467.0" y="987.8" font-size="35.5" textLength="182.0" lengthAdjust="spacingAndGlyphs">OV3R-PTX</text>
<rect x="244.9" y="1009.4" width="122.9" height="20.4" fill="#56a0fa" stroke="#000" stroke-width="3.8"/>
<rect x="244.9" y="1047.7" width="524.0" height="20.2" fill="#fb0000" stroke="#000" stroke-width="3.8"/>
<rect x="244.9" y="1111.0" width="122.9" height="20.4" fill="#56a0fa" stroke="#000" stroke-width="3.8"/>
<rect x="244.9" y="1149.7" width="297.3" height="20.1" fill="#fb0000" stroke="#000" stroke-width="3.8"/>
<rect x="244.9" y="1212.3" width="122.9" height="20.5" fill="#56a0fa" stroke="#000" stroke-width="3.8"/>
<rect x="244.9" y="1250.8" width="191.4" height="20.1" fill="#fb0000" stroke="#000" stroke-width="3.8"/>
<rect x="244.9" y="1313.9" width="122.9" height="20.5" fill="#56a0fa" stroke="#000" stroke-width="3.8"/>
<rect x="244.9" y="1352.2" width="181.8" height="20.6" fill="#fb0000" stroke="#000" stroke-width="3.8"/>
<line x1="370.0" y1="1019.4" x2="373.6" y2="1019.4" stroke="#000" stroke-width="3" stroke-linecap="butt"/>
<line x1="373.6" y1="1013.9" x2="373.6" y2="1024.9" stroke="#000" stroke-width="3.2" stroke-linecap="butt"/>
<line x1="370.0" y1="1121.2" x2="379.8" y2="1121.2" stroke="#000" stroke-width="3" stroke-linecap="butt"/>
<line x1="379.8" y1="1115.5" x2="379.8" y2="1127.0" stroke="#000" stroke-width="3.2" stroke-linecap="butt"/>
<line x1="370.0" y1="1222.6" x2="421.0" y2="1222.6" stroke="#000" stroke-width="3" stroke-linecap="butt"/>
<line x1="421.0" y1="1216.8" x2="421.0" y2="1228.3" stroke="#000" stroke-width="3.2" stroke-linecap="butt"/>
<line x1="438.0" y1="1260.8" x2="445.2" y2="1260.8" stroke="#000" stroke-width="3" stroke-linecap="butt"/>
<line x1="445.2" y1="1255.3" x2="445.2" y2="1266.3" stroke="#000" stroke-width="3.2" stroke-linecap="butt"/>
<line x1="370.0" y1="1324.3" x2="391.8" y2="1324.3" stroke="#000" stroke-width="3" stroke-linecap="butt"/>
<line x1="391.8" y1="1318.3" x2="391.8" y2="1330.3" stroke="#000" stroke-width="3.2" stroke-linecap="butt"/>
<line x1="428.0" y1="1362.5" x2="445.2" y2="1362.5" stroke="#000" stroke-width="3" stroke-linecap="butt"/>
<line x1="445.2" y1="1356.8" x2="445.2" y2="1368.2" stroke="#000" stroke-width="3.2" stroke-linecap="butt"/>
<line x1="771.0" y1="1057.6" x2="821.2" y2="1057.6" stroke="#000" stroke-width="3" stroke-linecap="butt"/>
<line x1="821.2" y1="1051.8" x2="821.2" y2="1063.4" stroke="#000" stroke-width="3.2" stroke-linecap="butt"/>
<line x1="544.0" y1="1159.6" x2="570.6" y2="1159.6" stroke="#000" stroke-width="3" stroke-linecap="butt"/>
<line x1="570.6" y1="1153.8" x2="570.6" y2="1165.4" stroke="#000" stroke-width="3.2" stroke-linecap="butt"/>
<line x1="245.0" y1="991.2" x2="245.0" y2="1399.0" stroke="#000" stroke-width="4" stroke-linecap="butt"/>
<line x1="243.0" y1="1388.1" x2="869.2" y2="1388.1" stroke="#000" stroke-width="4" stroke-linecap="butt"/>
<line x1="245.0" y1="1388.1" x2="245.0" y2="1399.0" stroke="#000" stroke-width="3.4" stroke-linecap="butt"/>
<text x="245.0" y="1431.5" font-size="26.5" text-anchor="middle" textLength="16.6" lengthAdjust="spacingAndGlyphs">0</text>
<line x1="369.4" y1="1388.1" x2="369.4" y2="1399.0" stroke="#000" stroke-width="3.4" stroke-linecap="butt"/>
<text x="369.4" y="1431.5" font-size="26.5" text-anchor="middle" textLength="16.6" lengthAdjust="spacingAndGlyphs">1</text>
<line x1="493.9" y1="1388.1" x2="493.9" y2="1399.0" stroke="#000" stroke-width="3.4" stroke-linecap="butt"/>
<text x="493.9" y="1431.5" font-size="26.5" text-anchor="middle" textLength="16.6" lengthAdjust="spacingAndGlyphs">2</text>
<line x1="618.4" y1="1388.1" x2="618.4" y2="1399.0" stroke="#000" stroke-width="3.4" stroke-linecap="butt"/>
<text x="618.4" y="1431.5" font-size="26.5" text-anchor="middle" textLength="16.6" lengthAdjust="spacingAndGlyphs">3</text>
<line x1="742.8" y1="1388.1" x2="742.8" y2="1399.0" stroke="#000" stroke-width="3.4" stroke-linecap="butt"/>
<text x="742.8" y="1431.5" font-size="26.5" text-anchor="middle" textLength="16.6" lengthAdjust="spacingAndGlyphs">4</text>
<line x1="867.2" y1="1388.1" x2="867.2" y2="1399.0" stroke="#000" stroke-width="3.4" stroke-linecap="butt"/>
<text x="867.2" y="1431.5" font-size="26.5" text-anchor="middle" textLength="16.6" lengthAdjust="spacingAndGlyphs">5</text>
<line x1="233.3" y1="1038.8" x2="245.0" y2="1038.8" stroke="#000" stroke-width="3.4" stroke-linecap="butt"/>
<text x="60.4" y="1048.6" font-size="27.5" textLength="168.9" lengthAdjust="spacingAndGlyphs">pGL4-P2000</text>
<line x1="233.3" y1="1140.7" x2="245.0" y2="1140.7" stroke="#000" stroke-width="3.4" stroke-linecap="butt"/>
<text x="60.4" y="1150.5" font-size="27.5" textLength="168.9" lengthAdjust="spacingAndGlyphs">pGL4-P1861</text>
<line x1="233.3" y1="1241.8" x2="245.0" y2="1241.8" stroke="#000" stroke-width="3.4" stroke-linecap="butt"/>
<text x="60.4" y="1251.6" font-size="27.5" textLength="168.9" lengthAdjust="spacingAndGlyphs">pGL4-P1358</text>
<line x1="233.3" y1="1343.4" x2="245.0" y2="1343.4" stroke="#000" stroke-width="3.4" stroke-linecap="butt"/>
<text x="60.4" y="1353.2" font-size="27.5" textLength="168.9" lengthAdjust="spacingAndGlyphs">pGL4-P1146</text>
<text x="387.2" y="1485.1" font-size="27.8" textLength="339.2" lengthAdjust="spacingAndGlyphs">Relative luciferase activity</text>
<text x="835.9" y="1075.0" font-size="33.0" textLength="25.0" lengthAdjust="spacingAndGlyphs">**</text>
<text x="586.9" y="1177.0" font-size="33.0" textLength="25.8" lengthAdjust="spacingAndGlyphs">**</text>
<rect x="602.5" y="1272.3" width="39.5" height="11.2" fill="#56a0fa" stroke="#000" stroke-width="3.4"/>
<text x="666.6" y="1287.5" font-size="27.5" textLength="139.0" lengthAdjust="spacingAndGlyphs">NC-Control</text>
<rect x="602.5" y="1312.7" width="39.5" height="11.2" fill="#fb0000" stroke="#000" stroke-width="3.4"/>
<text x="666.6" y="1327.9" font-size="27.5" textLength="101.8" lengthAdjust="spacingAndGlyphs">Si-ZEB1</text>
<text x="986.5" y="990.7" font-size="43.5" font-weight="bold">H</text>
<text x="1421.2" y="986.4" font-size="35.5" textLength="176.8" lengthAdjust="spacingAndGlyphs">SK3R-PTX</text>
<rect x="1189.4" y="1008.8" width="121.3" height="20.4" fill="#56a0fa" stroke="#000" stroke-width="3.8"/>
<rect x="1189.4" y="1046.9" width="391.4" height="19.9" fill="#fb0000" stroke="#000" stroke-width="3.8"/>
<rect x="1189.4" y="1108.9" width="121.3" height="20.5" fill="#56a0fa" stroke="#000" stroke-width="3.8"/>
<rect x="1189.4" y="1147.4" width="266.5" height="20.4" fill="#fb0000" stroke="#000" stroke-width="3.8"/>
<rect x="1189.4" y="1210.0" width="121.3" height="20.5" fill="#56a0fa" stroke="#000" stroke-width="3.8"/>
<rect x="1189.4" y="1248.1" width="102.9" height="20.5" fill="#fb0000" stroke="#000" stroke-width="3.8"/>
<rect x="1189.4" y="1311.0" width="121.3" height="21.0" fill="#56a0fa" stroke="#000" stroke-width="3.8"/>
<rect x="1189.4" y="1349.1" width="125.5" height="20.7" fill="#fb0000" stroke="#000" stroke-width="3.8"/>
<line x1="1313.0" y1="1018.9" x2="1321.0" y2="1018.9" stroke="#000" stroke-width="3" stroke-linecap="butt"/>
<line x1="1321.0" y1="1013.1" x2="1321.0" y2="1024.7" stroke="#000" stroke-width="3.2" stroke-linecap="butt"/>
<line x1="1313.0" y1="1119.2" x2="1322.4" y2="1119.2" stroke="#000" stroke-width="3" stroke-linecap="butt"/>
<line x1="1322.4" y1="1113.5" x2="1322.4" y2="1125.0" stroke="#000" stroke-width="3.2" stroke-linecap="butt"/>
<line x1="1313.0" y1="1220.2" x2="1318.6" y2="1220.2" stroke="#000" stroke-width="3" stroke-linecap="butt"/>
<line x1="1318.6" y1="1214.7" x2="1318.6" y2="1225.7" stroke="#000" stroke-width="3.2" stroke-linecap="butt"/>
<line x1="1295.0" y1="1258.3" x2="1304.4" y2="1258.3" stroke="#000" stroke-width="3" stroke-linecap="butt"/>
<line x1="1304.4" y1="1252.5" x2="1304.4" y2="1264.0" stroke="#000" stroke-width="3.2" stroke-linecap="butt"/>
<line x1="1313.0" y1="1321.5" x2="1324.7" y2="1321.5" stroke="#000" stroke-width="3" stroke-linecap="butt"/>
<line x1="1324.7" y1="1315.5" x2="1324.7" y2="1327.5" stroke="#000" stroke-width="3.2" stroke-linecap="butt"/>
<line x1="1317.0" y1="1359.4" x2="1329.6" y2="1359.4" stroke="#000" stroke-width="3" stroke-linecap="butt"/>
<line x1="1329.6" y1="1353.4" x2="1329.6" y2="1365.4" stroke="#000" stroke-width="3.2" stroke-linecap="butt"/>
<line x1="1583.0" y1="1056.8" x2="1641.0" y2="1056.8" stroke="#000" stroke-width="3" stroke-linecap="butt"/>
<line x1="1641.0" y1="1050.8" x2="1641.0" y2="1062.8" stroke="#000" stroke-width="3.2" stroke-linecap="butt"/>
<line x1="1458.0" y1="1157.6" x2="1470.0" y2="1157.6" stroke="#000" stroke-width="3" stroke-linecap="butt"/>
<line x1="1470.0" y1="1151.6" x2="1470.0" y2="1163.6" stroke="#000" stroke-width="3.2" stroke-linecap="butt"/>
<line x1="1189.5" y1="991.2" x2="1189.5" y2="1395.6" stroke="#000" stroke-width="4" stroke-linecap="butt"/>
<line x1="1187.5" y1="1384.7" x2="1808.5" y2="1384.7" stroke="#000" stroke-width="4" stroke-linecap="butt"/>
<line x1="1189.5" y1="1384.7" x2="1189.5" y2="1395.6" stroke="#000" stroke-width="3.4" stroke-linecap="butt"/>
<text x="1189.5" y="1427.2" font-size="26.5" text-anchor="middle" textLength="16.6" lengthAdjust="spacingAndGlyphs">0</text>
<line x1="1312.9" y1="1384.7" x2="1312.9" y2="1395.6" stroke="#000" stroke-width="3.4" stroke-linecap="butt"/>
<text x="1312.9" y="1427.2" font-size="26.5" text-anchor="middle" textLength="16.6" lengthAdjust="spacingAndGlyphs">1</text>
<line x1="1436.3" y1="1384.7" x2="1436.3" y2="1395.6" stroke="#000" stroke-width="3.4" stroke-linecap="butt"/>
<text x="1436.3" y="1427.2" font-size="26.5" text-anchor="middle" textLength="16.6" lengthAdjust="spacingAndGlyphs">2</text>
<line x1="1559.7" y1="1384.7" x2="1559.7" y2="1395.6" stroke="#000" stroke-width="3.4" stroke-linecap="butt"/>
<text x="1559.7" y="1427.2" font-size="26.5" text-anchor="middle" textLength="16.6" lengthAdjust="spacingAndGlyphs">3</text>
<line x1="1683.1" y1="1384.7" x2="1683.1" y2="1395.6" stroke="#000" stroke-width="3.4" stroke-linecap="butt"/>
<text x="1683.1" y="1427.2" font-size="26.5" text-anchor="middle" textLength="16.6" lengthAdjust="spacingAndGlyphs">4</text>
<line x1="1806.5" y1="1384.7" x2="1806.5" y2="1395.6" stroke="#000" stroke-width="3.4" stroke-linecap="butt"/>
<text x="1806.5" y="1427.2" font-size="26.5" text-anchor="middle" textLength="16.6" lengthAdjust="spacingAndGlyphs">5</text>
<line x1="1177.8" y1="1037.7" x2="1189.5" y2="1037.7" stroke="#000" stroke-width="3.4" stroke-linecap="butt"/>
<text x="1005.6" y="1047.1" font-size="27.5" textLength="168.8" lengthAdjust="spacingAndGlyphs">pGL4-P2000</text>
<line x1="1177.8" y1="1137.9" x2="1189.5" y2="1137.9" stroke="#000" stroke-width="3.4" stroke-linecap="butt"/>
<text x="1005.6" y="1147.3" font-size="27.5" textLength="168.8" lengthAdjust="spacingAndGlyphs">pGL4-P1861</text>
<line x1="1177.8" y1="1238.9" x2="1189.5" y2="1238.9" stroke="#000" stroke-width="3.4" stroke-linecap="butt"/>
<text x="1005.6" y="1248.3" font-size="27.5" textLength="168.8" lengthAdjust="spacingAndGlyphs">pGL4-P1358</text>
<line x1="1177.8" y1="1339.9" x2="1189.5" y2="1339.9" stroke="#000" stroke-width="3.4" stroke-linecap="butt"/>
<text x="1005.6" y="1349.3" font-size="27.5" textLength="168.8" lengthAdjust="spacingAndGlyphs">pGL4-P1146</text>
<text x="1330.6" y="1480.6" font-size="27.8" textLength="336.4" lengthAdjust="spacingAndGlyphs">Relative luciferase activity</text>
<text x="1651.3" y="1074.0" font-size="33.0" textLength="37.5" lengthAdjust="spacingAndGlyphs">***</text>
<text x="1476.1" y="1176.5" font-size="33.0" textLength="36.5" lengthAdjust="spacingAndGlyphs">***</text>
<rect x="1505.6" y="1272.3" width="37.2" height="10.7" fill="#fb0000" stroke="#000" stroke-width="3.4"/>
<text x="1567.9" y="1287.2" font-size="27.5" textLength="102.0" lengthAdjust="spacingAndGlyphs">Si-ZEB1</text>
<rect x="1505.6" y="1324.9" width="37.2" height="10.6" fill="#56a0fa" stroke="#000" stroke-width="3.4"/>
<text x="1567.9" y="1340.0" font-size="27.5" textLength="138.5" lengthAdjust="spacingAndGlyphs">NC-Control</text>
<text x="4.5" y="1547.2" font-size="43.5" font-weight="bold">I</text>
<text x="300.9" y="1584.4" font-size="21.3" textLength="110.1" lengthAdjust="spacingAndGlyphs">OV3R-PTX</text>
<text x="152.2" y="1639.2" font-size="21.5" textLength="32.1" lengthAdjust="spacingAndGlyphs">NC</text>
<text x="106.7" y="1678.5" font-size="21.5" textLength="82.0" lengthAdjust="spacingAndGlyphs">Si-ZEB1</text>
<text x="28.5" y="1717.1" font-size="21.5" textLength="161.7" lengthAdjust="spacingAndGlyphs">Anti-miR-142-5p</text>
<text x="259.8" y="1642.0" font-size="25.5" text-anchor="middle">+</text>
<text x="348.4" y="1639.7" font-size="21" text-anchor="middle" textLength="17" lengthAdjust="spacingAndGlyphs" font-weight="bold">−</text>
<text x="430.1" y="1639.7" font-size="21" text-anchor="middle" textLength="17" lengthAdjust="spacingAndGlyphs" font-weight="bold">−</text>
<text x="259.8" y="1681.5" font-size="21" text-anchor="middle" textLength="17" lengthAdjust="spacingAndGlyphs">−</text>
<text x="348.4" y="1683.8" font-size="25.5" text-anchor="middle">+</text>
<text x="430.1" y="1683.8" font-size="25.5" text-anchor="middle">+</text>
<text x="259.8" y="1721.3" font-size="21" text-anchor="middle" textLength="17" lengthAdjust="spacingAndGlyphs" font-weight="bold">−</text>
<text x="348.4" y="1721.3" font-size="21" text-anchor="middle" textLength="17" lengthAdjust="spacingAndGlyphs" font-weight="bold">−</text>
<text x="430.1" y="1718.5" font-size="25.5" text-anchor="middle">+</text>
<rect x="233.0" y="1736.0" width="226.4" height="42.0" fill="#dedede"/>
<g clip-path="url(#cp5)">
<rect x="234.0" y="1727.0" width="58.0" height="60.0" rx="5.0" fill="#d0d0d0" opacity="0.7" filter="url(#bl6)"/>
<rect x="310.0" y="1727.0" width="62.0" height="60.0" rx="5.0" fill="#d4d4d4" opacity="0.5" filter="url(#bl6)"/>
<rect x="392.0" y="1727.0" width="56.0" height="60.0" rx="5.0" fill="#d4d4d4" opacity="0.5" filter="url(#bl6)"/>
<rect x="237.0" y="1754.0" width="54.0" height="5.0" rx="2.5" fill="#6e6e6e" opacity="0.8" filter="url(#bl2)"/>
<rect x="318.0" y="1758.5" width="50.0" height="5.0" rx="2.5" fill="#bbb" opacity="0.6" filter="url(#bl3)"/>
<rect x="398.0" y="1756.5" width="46.0" height="5.0" rx="2.5" fill="#bbb" opacity="0.7" filter="url(#bl3)"/>
</g>
<rect x="233.0" y="1736.0" width="226.4" height="42.0" fill="none" stroke="#000" stroke-width="1.6"/>
<text x="165.2" y="1767.7" font-size="21.5" textLength="55.2" lengthAdjust="spacingAndGlyphs">ZEB1</text>
<text x="245.1" y="1803.2" font-size="28.6" textLength="37.9" lengthAdjust="spacingAndGlyphs">1.0</text>
<text x="316.1" y="1803.2" font-size="28.6" textLength="52.6" lengthAdjust="spacingAndGlyphs">0.11</text>
<text x="396.1" y="1803.2" font-size="28.6" textLength="56.6" lengthAdjust="spacingAndGlyphs">0.28</text>
<rect x="232.8" y="1810.0" width="225.2" height="44.2" fill="#f6f6f6"/>
<g clip-path="url(#cp6)">
<rect x="237.0" y="1830.5" width="59.0" height="6.0" rx="3.0" fill="#111" opacity="0.95" filter="url(#bl2)"/>
<rect x="262.0" y="1831.5" width="35.0" height="7.0" rx="3.5" fill="#000" opacity="0.9" filter="url(#bl2)"/>
<rect x="317.0" y="1833.0" width="58.0" height="5.0" rx="2.5" fill="#555" opacity="0.8" filter="url(#bl2)"/>
<rect x="350.0" y="1831.0" width="26.0" height="5.0" rx="2.5" fill="#444" opacity="0.7" filter="url(#bl2)"/>
<rect x="398.0" y="1829.8" width="53.0" height="5.5" rx="2.8" fill="#222" opacity="0.9" filter="url(#bl2)"/>
<rect x="430.0" y="1828.0" width="22.0" height="7.0" rx="3.5" fill="#111" opacity="0.8" filter="url(#bl2)"/>
</g>
<rect x="232.8" y="1810.0" width="225.2" height="44.2" fill="none" stroke="#222" stroke-width="1.2"/>
<text x="158.9" y="1840.1" font-size="21.5" textLength="63.0" lengthAdjust="spacingAndGlyphs">Sorcin</text>
<text x="245.1" y="1879.7" font-size="28.6" textLength="37.9" lengthAdjust="spacingAndGlyphs">1.0</text>
<text x="316.1" y="1879.7" font-size="28.6" textLength="56.9" lengthAdjust="spacingAndGlyphs">0.46</text>
<text x="396.1" y="1879.7" font-size="28.6" textLength="56.6" lengthAdjust="spacingAndGlyphs">0.89</text>
<rect x="232.4" y="1892.6" width="225.6" height="37.0" fill="#f4f4f4"/>
<g clip-path="url(#cp7)">
<rect x="236.0" y="1905.8" width="82.0" height="10.0" rx="5.0" fill="#000" opacity="1" filter="url(#bl2)"/>
<rect x="314.0" y="1906.5" width="80.0" height="10.0" rx="5.0" fill="#000" opacity="1" filter="url(#bl2)"/>
<rect x="388.0" y="1905.0" width="69.0" height="9.5" rx="4.8" fill="#000" opacity="1" filter="url(#bl2)"/>
</g>
<rect x="232.4" y="1892.6" width="225.6" height="37.0" fill="none" stroke="#000" stroke-width="1.6"/>
<text x="168.1" y="1913.5" font-size="21.5" textLength="50.1" lengthAdjust="spacingAndGlyphs">Actin</text>
<text x="496.0" y="1547.2" font-size="43.5" font-weight="bold">J</text>
<text x="772.3" y="1584.4" font-size="21.3" textLength="108.5" lengthAdjust="spacingAndGlyphs">SK3R-PTX</text>
<text x="647.2" y="1639.2" font-size="21.5" textLength="32.1" lengthAdjust="spacingAndGlyphs">NC</text>
<text x="602.9" y="1678.5" font-size="21.5" textLength="81.2" lengthAdjust="spacingAndGlyphs">Si-ZEB1</text>
<text x="522.5" y="1717.1" font-size="21.5" textLength="162.0" lengthAdjust="spacingAndGlyphs">Anti-miR-142-5p</text>
<text x="731.2" y="1641.2" font-size="25.5" text-anchor="middle">+</text>
<text x="819.8" y="1639.1" font-size="21" text-anchor="middle" textLength="17" lengthAdjust="spacingAndGlyphs">−</text>
<text x="901.5" y="1639.1" font-size="21" text-anchor="middle" textLength="17" lengthAdjust="spacingAndGlyphs">−</text>
<text x="731.2" y="1681.0" font-size="21" text-anchor="middle" textLength="17" lengthAdjust="spacingAndGlyphs">−</text>
<text x="819.8" y="1683.0" font-size="25.5" text-anchor="middle">+</text>
<text x="901.5" y="1683.0" font-size="25.5" text-anchor="middle">+</text>
<text x="731.2" y="1719.9" font-size="21" text-anchor="middle" textLength="17" lengthAdjust="spacingAndGlyphs">−</text>
<text x="819.8" y="1719.9" font-size="21" text-anchor="middle" textLength="17" lengthAdjust="spacingAndGlyphs">−</text>
<text x="901.5" y="1717.1" font-size="25.5" text-anchor="middle">+</text>
<rect x="696.2" y="1737.4" width="226.4" height="42.0" fill="#dcdcdc"/>
<g clip-path="url(#cp8)">
<rect x="697.0" y="1728.0" width="63.0" height="60.0" rx="5.0" fill="#cfcfcf" opacity="0.7" filter="url(#bl6)"/>
<rect x="850.0" y="1728.0" width="66.0" height="60.0" rx="5.0" fill="#cfcfcf" opacity="0.6" filter="url(#bl6)"/>
<rect x="762.0" y="1728.0" width="83.0" height="60.0" rx="5.0" fill="#e4e4e4" opacity="0.6" filter="url(#bl6)"/>
<rect x="703.0" y="1753.8" width="55.0" height="5.5" rx="2.8" fill="#5a5a5a" opacity="0.85" filter="url(#bl2)"/>
<rect x="858.0" y="1759.3" width="56.0" height="6.0" rx="3.0" fill="#777" opacity="0.8" filter="url(#bl2)"/>
</g>
<rect x="696.2" y="1737.4" width="226.4" height="42.0" fill="none" stroke="#000" stroke-width="1.6"/>
<text x="634.5" y="1765.1" font-size="21.5" textLength="54.4" lengthAdjust="spacingAndGlyphs">ZEB1</text>
<text x="708.6" y="1803.2" font-size="28.6" textLength="37.9" lengthAdjust="spacingAndGlyphs">1.0</text>
<text x="773.0" y="1803.2" font-size="28.6" textLength="53.5" lengthAdjust="spacingAndGlyphs">0.17</text>
<text x="845.6" y="1803.2" font-size="28.6" textLength="56.8" lengthAdjust="spacingAndGlyphs">0.78</text>
<rect x="696.0" y="1813.0" width="224.0" height="41.2" fill="#f6f6f6"/>
<g clip-path="url(#cp9)">
<rect x="705.0" y="1830.8" width="55.0" height="7.0" rx="3.5" fill="#111" opacity="0.95" filter="url(#bl2)"/>
<rect x="705.0" y="1828.5" width="17.0" height="8.0" rx="4.0" fill="#000" opacity="0.9" filter="url(#bl2)"/>
<rect x="745.0" y="1830.0" width="16.0" height="9.0" rx="4.5" fill="#000" opacity="0.9" filter="url(#bl2)"/>
<rect x="786.0" y="1834.0" width="40.0" height="5.0" rx="2.5" fill="#bbb" opacity="0.8" filter="url(#bl3)"/>
<rect x="814.0" y="1832.5" width="12.0" height="6.0" rx="3.0" fill="#999" opacity="0.7" filter="url(#bl2)"/>
<rect x="845.0" y="1833.3" width="48.0" height="6.0" rx="3.0" fill="#333" opacity="0.85" filter="url(#bl2)"/>
<rect x="845.0" y="1831.5" width="19.0" height="8.0" rx="4.0" fill="#222" opacity="0.8" filter="url(#bl2)"/>
</g>
<rect x="696.0" y="1813.0" width="224.0" height="41.2" fill="none" stroke="#222" stroke-width="1.2"/>
<text x="624.5" y="1847.4" font-size="21.5" textLength="62.9" lengthAdjust="spacingAndGlyphs">Sorcin</text>
<text x="708.6" y="1879.7" font-size="28.6" textLength="37.9" lengthAdjust="spacingAndGlyphs">1.0</text>
<text x="773.0" y="1879.7" font-size="28.6" textLength="56.4" lengthAdjust="spacingAndGlyphs">0.06</text>
<text x="845.6" y="1879.7" font-size="28.6" textLength="56.8" lengthAdjust="spacingAndGlyphs">0.63</text>
<rect x="696.0" y="1893.8" width="223.4" height="39.2" fill="#f4f4f4"/>
<g clip-path="url(#cp10)">
<rect x="694.0" y="1906.3" width="66.0" height="10.0" rx="5.0" fill="#000" opacity="1" filter="url(#bl2)"/>
<rect x="769.0" y="1907.8" width="65.0" height="9.5" rx="4.8" fill="#000" opacity="1" filter="url(#bl2)"/>
<rect x="842.0" y="1908.4" width="69.0" height="10.0" rx="5.0" fill="#000" opacity="1" filter="url(#bl2)"/>
</g>
<rect x="696.0" y="1893.8" width="223.4" height="39.2" fill="none" stroke="#000" stroke-width="1.6"/>
<text x="637.4" y="1919.6" font-size="21.5" textLength="50.0" lengthAdjust="spacingAndGlyphs">Actin</text>
<text x="986.5" y="1547.2" font-size="43.5" font-weight="bold">K</text>
<text x="1311.6" y="1579.5" font-size="20.5" textLength="104.8" lengthAdjust="spacingAndGlyphs">OV3R-PTX</text>
<text x="1118.2" y="1623.7" font-size="20.6" textLength="101.3" lengthAdjust="spacingAndGlyphs">PCDNA3.1</text>
<text x="1167.7" y="1657.4" font-size="20.6" textLength="51.8" lengthAdjust="spacingAndGlyphs">ZEB1</text>
<text x="1051.7" y="1692.1" font-size="20.6" textLength="170.1" lengthAdjust="spacingAndGlyphs">miR-142-5p mimic</text>
<text x="1286.8" y="1619.2" font-size="21.5" text-anchor="middle">+</text>
<text x="1369.9" y="1618.3" font-size="21" text-anchor="middle" textLength="17" lengthAdjust="spacingAndGlyphs">−</text>
<text x="1447.0" y="1618.3" font-size="21" text-anchor="middle" textLength="17" lengthAdjust="spacingAndGlyphs">−</text>
<text x="1286.8" y="1657.9" font-size="21" text-anchor="middle" textLength="17" lengthAdjust="spacingAndGlyphs">−</text>
<text x="1369.9" y="1658.8" font-size="21.5" text-anchor="middle">+</text>
<text x="1447.0" y="1658.8" font-size="21.5" text-anchor="middle">+</text>
<text x="1286.8" y="1694.5" font-size="21" text-anchor="middle" textLength="17" lengthAdjust="spacingAndGlyphs">−</text>
<text x="1369.9" y="1694.5" font-size="21" text-anchor="middle" textLength="17" lengthAdjust="spacingAndGlyphs">−</text>
<text x="1447.0" y="1690.8" font-size="21.5" text-anchor="middle">+</text>
<rect x="1253.0" y="1720.0" width="223.0" height="56.0" fill="url(#kg)"/>
<g clip-path="url(#cp11)">
<rect x="1252.0" y="1747.5" width="56.0" height="6.0" rx="3.0" fill="#0a0a0a" opacity="0.95" filter="url(#bl2)"/>
<rect x="1333.0" y="1748.5" width="56.0" height="15.0" rx="7.5" fill="#000" opacity="1" filter="url(#bl2)"/>
<rect x="1336.0" y="1743.0" width="50.0" height="8.0" rx="4.0" fill="#111" opacity="0.8" filter="url(#bl3)"/>
<rect x="1416.0" y="1751.5" width="58.0" height="9.0" rx="4.5" fill="#000" opacity="0.95" filter="url(#bl2)"/>
<rect x="1440.0" y="1755.0" width="38.0" height="8.0" rx="4.0" fill="#000" opacity="0.9" filter="url(#bl2)"/>
<rect x="1300.0" y="1720.0" width="35.0" height="50.0" rx="5.0" fill="#e8e8e8" opacity="0.6" filter="url(#bl6)"/>
<rect x="1392.0" y="1720.0" width="24.0" height="50.0" rx="5.0" fill="#e8e8e8" opacity="0.6" filter="url(#bl6)"/>
</g>
<rect x="1253.0" y="1720.0" width="223.0" height="56.0" fill="none" stroke="#000" stroke-width="1.6"/>
<text x="1187.3" y="1748.9" font-size="20.6" textLength="51.5" lengthAdjust="spacingAndGlyphs">ZEB1</text>
<rect x="1253.0" y="1800.6" width="221.0" height="59.2" fill="#f7f7f7"/>
<g clip-path="url(#cp12)">
<rect x="1264.0" y="1825.0" width="47.0" height="6.0" rx="3.0" fill="#222" opacity="0.9" filter="url(#bl2)"/>
<rect x="1340.0" y="1825.0" width="46.0" height="8.0" rx="4.0" fill="#050505" opacity="0.95" filter="url(#bl2)"/>
<rect x="1416.0" y="1828.2" width="52.0" height="5.5" rx="2.8" fill="#666" opacity="0.8" filter="url(#bl2)"/>
</g>
<rect x="1253.0" y="1800.6" width="221.0" height="59.2" fill="none" stroke="#000" stroke-width="1.6"/>
<text x="1180.8" y="1831.5" font-size="20.6" textLength="58.9" lengthAdjust="spacingAndGlyphs">Sorcin</text>
<text x="1272.8" y="1792.5" font-size="28.6" textLength="37.4" lengthAdjust="spacingAndGlyphs">1.0</text>
<text x="1339.6" y="1792.5" font-size="28.6" textLength="55.8" lengthAdjust="spacingAndGlyphs">9.92</text>
<text x="1414.6" y="1792.5" font-size="28.6" textLength="56.5" lengthAdjust="spacingAndGlyphs">8.97</text>
<text x="1272.8" y="1872.5" font-size="28.6" textLength="37.4" lengthAdjust="spacingAndGlyphs">1.0</text>
<text x="1342.1" y="1872.5" font-size="28.6" textLength="38.0" lengthAdjust="spacingAndGlyphs">1.5</text>
<text x="1414.6" y="1872.5" font-size="28.6" textLength="57.7" lengthAdjust="spacingAndGlyphs">0.64</text>
<rect x="1253.0" y="1879.6" width="218.3" height="58.0" fill="#f5f5f5"/>
<g clip-path="url(#cp13)">
<rect x="1258.0" y="1900.8" width="57.0" height="12.5" rx="6.2" fill="#000" opacity="1" filter="url(#bl2)"/>
<rect x="1329.0" y="1903.0" width="59.0" height="12.5" rx="6.2" fill="#000" opacity="1" filter="url(#bl2)"/>
<rect x="1404.0" y="1904.8" width="60.0" height="12.5" rx="6.2" fill="#000" opacity="1" filter="url(#bl2)"/>
</g>
<rect x="1253.0" y="1879.6" width="218.3" height="58.0" fill="none" stroke="#000" stroke-width="1.6"/>
<text x="1189.7" y="1914.9" font-size="20.6" textLength="46.5" lengthAdjust="spacingAndGlyphs">Actin</text>
<text x="1489.5" y="1547.2" font-size="43.5" font-weight="bold">L</text>
<text x="1762.0" y="1578.6" font-size="20.5" textLength="102.5" lengthAdjust="spacingAndGlyphs">SK3R-PTX</text>
<text x="1577.9" y="1622.8" font-size="20.6" textLength="101.2" lengthAdjust="spacingAndGlyphs">PCDNA3.1</text>
<text x="1628.3" y="1657.4" font-size="20.6" textLength="51.4" lengthAdjust="spacingAndGlyphs">ZEB1</text>
<text x="1518.0" y="1692.9" font-size="20.6" textLength="169.8" lengthAdjust="spacingAndGlyphs">miR-142-5p mimic</text>
<text x="1730.9" y="1618.6" font-size="21.5" text-anchor="middle">+</text>
<text x="1813.7" y="1618.3" font-size="21" text-anchor="middle" textLength="17" lengthAdjust="spacingAndGlyphs">−</text>
<text x="1890.4" y="1618.3" font-size="21" text-anchor="middle" textLength="17" lengthAdjust="spacingAndGlyphs">−</text>
<text x="1730.9" y="1657.9" font-size="21" text-anchor="middle" textLength="17" lengthAdjust="spacingAndGlyphs">−</text>
<text x="1813.7" y="1658.2" font-size="21.5" text-anchor="middle">+</text>
<text x="1890.4" y="1658.2" font-size="21.5" text-anchor="middle">+</text>
<text x="1730.9" y="1694.5" font-size="21" text-anchor="middle" textLength="17" lengthAdjust="spacingAndGlyphs">−</text>
<text x="1813.7" y="1694.5" font-size="21" text-anchor="middle" textLength="17" lengthAdjust="spacingAndGlyphs">−</text>
<text x="1890.4" y="1690.8" font-size="21.5" text-anchor="middle">+</text>
<rect x="1692.0" y="1723.6" width="220.5" height="46.0" fill="#dadada"/>
<g clip-path="url(#cp14)">
<rect x="1700.0" y="1716.0" width="60.0" height="60.0" rx="5.0" fill="#c6c6c6" opacity="0.6" filter="url(#bl6)"/>
<rect x="1775.0" y="1716.0" width="57.0" height="60.0" rx="5.0" fill="#c0c0c0" opacity="0.6" filter="url(#bl6)"/>
<rect x="1848.0" y="1716.0" width="58.0" height="60.0" rx="5.0" fill="#c0c0c0" opacity="0.6" filter="url(#bl6)"/>
<rect x="1705.0" y="1738.2" width="52.0" height="4.5" rx="2.2" fill="#111" opacity="0.95" filter="url(#bl2)"/>
<rect x="1780.0" y="1737.5" width="48.0" height="7.0" rx="3.5" fill="#000" opacity="1" filter="url(#bl2)"/>
<rect x="1784.0" y="1727.5" width="42.0" height="5.0" rx="2.5" fill="#777" opacity="0.5" filter="url(#bl3)"/>
<rect x="1850.0" y="1737.8" width="53.0" height="8.5" rx="4.2" fill="#000" opacity="1" filter="url(#bl2)"/>
<rect x="1855.0" y="1727.5" width="45.0" height="5.0" rx="2.5" fill="#777" opacity="0.5" filter="url(#bl3)"/>
</g>
<rect x="1692.0" y="1723.6" width="220.5" height="46.0" fill="none" stroke="#222" stroke-width="1.3"/>
<text x="1634.6" y="1757.6" font-size="20.6" textLength="51.8" lengthAdjust="spacingAndGlyphs">ZEB1</text>
<rect x="1692.0" y="1792.8" width="220.5" height="57.2" fill="#f7f7f7"/>
<g clip-path="url(#cp15)">
<rect x="1718.0" y="1813.0" width="24.0" height="6.0" rx="3.0" fill="#888" opacity="0.8" filter="url(#bl3)"/>
<rect x="1770.0" y="1811.0" width="51.0" height="8.5" rx="4.2" fill="#050505" opacity="0.98" filter="url(#bl2)"/>
<rect x="1848.0" y="1810.8" width="58.0" height="5.5" rx="2.8" fill="#555" opacity="0.85" filter="url(#bl2)"/>
<rect x="1880.0" y="1809.0" width="28.0" height="5.0" rx="2.5" fill="#444" opacity="0.8" filter="url(#bl2)"/>
</g>
<rect x="1692.0" y="1792.8" width="220.5" height="57.2" fill="none" stroke="#222" stroke-width="1.3"/>
<text x="1628.4" y="1841.6" font-size="20.6" textLength="58.8" lengthAdjust="spacingAndGlyphs">Sorcin</text>
<text x="1710.9" y="1784.5" font-size="28.6" textLength="37.4" lengthAdjust="spacingAndGlyphs">1.0</text>
<text x="1766.6" y="1784.5" font-size="28.6" textLength="53.9" lengthAdjust="spacingAndGlyphs">7.57</text>
<text x="1843.1" y="1784.5" font-size="28.6" textLength="54.4" lengthAdjust="spacingAndGlyphs">8.51</text>
<text x="1710.9" y="1865.9" font-size="28.6" textLength="37.4" lengthAdjust="spacingAndGlyphs">1.0</text>
<text x="1766.6" y="1865.9" font-size="28.6" textLength="56.7" lengthAdjust="spacingAndGlyphs">5.68</text>
<text x="1843.1" y="1865.9" font-size="28.6" textLength="54.4" lengthAdjust="spacingAndGlyphs">3.27</text>
<rect x="1692.8" y="1880.0" width="219.7" height="54.6" fill="#f5f5f5"/>
<g clip-path="url(#cp16)">
<rect x="1696.0" y="1905.0" width="72.0" height="12.0" rx="6.0" fill="#000" opacity="0.95" filter="url(#bl2)"/>
<rect x="1764.0" y="1903.5" width="78.0" height="14.0" rx="7.0" fill="#000" opacity="1" filter="url(#bl2)"/>
<rect x="1836.0" y="1901.0" width="74.0" height="15.0" rx="7.5" fill="#000" opacity="1" filter="url(#bl2)"/>
</g>
<rect x="1692.8" y="1880.0" width="219.7" height="54.6" fill="none" stroke="#222" stroke-width="1.3"/>
<text x="1637.5" y="1923.9" font-size="20.6" textLength="46.9" lengthAdjust="spacingAndGlyphs">Actin</text>
<text x="6.0" y="2010.3" font-size="43.5" font-weight="bold">M</text>
<text x="218.8" y="2031.9" font-size="20.0" textLength="98.9" lengthAdjust="spacingAndGlyphs">GSE51373</text>
<line x1="112.0" y1="2064.2" x2="112.0" y2="2355.8" stroke="#000" stroke-width="3" stroke-linecap="butt"/>
<line x1="102.5" y1="2354.3" x2="420.0" y2="2354.3" stroke="#000" stroke-width="3" stroke-linecap="butt"/>
<line x1="102.5" y1="2065.6" x2="112.0" y2="2065.6" stroke="#000" stroke-width="2.6" stroke-linecap="butt"/>
<text x="100.6" y="2072.7" font-size="20" text-anchor="end">200</text>
<line x1="102.5" y1="2137.7" x2="112.0" y2="2137.7" stroke="#000" stroke-width="2.6" stroke-linecap="butt"/>
<text x="100.6" y="2144.8" font-size="20" text-anchor="end">150</text>
<line x1="102.5" y1="2209.9" x2="112.0" y2="2209.9" stroke="#000" stroke-width="2.6" stroke-linecap="butt"/>
<text x="100.6" y="2217.0" font-size="20" text-anchor="end">100</text>
<line x1="102.5" y1="2281.5" x2="112.0" y2="2281.5" stroke="#000" stroke-width="2.6" stroke-linecap="butt"/>
<text x="100.6" y="2288.6" font-size="20" text-anchor="end">50</text>
<line x1="102.5" y1="2354.3" x2="112.0" y2="2354.3" stroke="#000" stroke-width="2.6" stroke-linecap="butt"/>
<text x="100.6" y="2361.4" font-size="20" text-anchor="end">0</text>
<line x1="112.0" y1="2354.3" x2="112.0" y2="2362.2" stroke="#000" stroke-width="2.6" stroke-linecap="butt"/>
<text x="112.0" y="2384.7" font-size="20.0" text-anchor="middle">0</text>
<line x1="197.2" y1="2354.3" x2="197.2" y2="2362.2" stroke="#000" stroke-width="2.6" stroke-linecap="butt"/>
<text x="197.2" y="2384.7" font-size="20.0" text-anchor="middle">5000</text>
<line x1="282.3" y1="2354.3" x2="282.3" y2="2362.2" stroke="#000" stroke-width="2.6" stroke-linecap="butt"/>
<text x="282.3" y="2384.7" font-size="20.0" text-anchor="middle">10000</text>
<line x1="367.2" y1="2354.3" x2="367.2" y2="2362.2" stroke="#000" stroke-width="2.6" stroke-linecap="butt"/>
<text x="367.2" y="2384.7" font-size="20.0" text-anchor="middle">15000</text>
<text x="174.8" y="2416.4" font-size="20.0" textLength="181.2" lengthAdjust="spacingAndGlyphs">SRI expression level</text>
<text font-size="20.5" textLength="209.0" lengthAdjust="spacingAndGlyphs" transform="translate(54.4 2314.8) rotate(-90)">ZEB1 expression level</text>
<text x="153.4" y="2097.4" font-size="20">r<tspan dy="-8.5" font-size="14.5">2</tspan><tspan dy="8.5">=0.168</tspan></text>
<text x="153.8" y="2121.4" font-size="20.0" textLength="64.2" lengthAdjust="spacingAndGlyphs">P&lt;0.05</text>
<circle cx="145.8" cy="2274.9" r="5.9" fill="#f050d4"/>
<circle cx="161.7" cy="2337.5" r="5.9" fill="#f050d4"/>
<circle cx="170.9" cy="2347.6" r="5.9" fill="#f050d4"/>
<circle cx="174.1" cy="2312.4" r="5.9" fill="#f050d4"/>
<circle cx="182.7" cy="2308.1" r="5.9" fill="#f050d4"/>
<circle cx="199.2" cy="2321.6" r="5.9" fill="#f050d4"/>
<circle cx="202.9" cy="2302.9" r="5.9" fill="#f050d4"/>
<circle cx="203.5" cy="2204.1" r="5.9" fill="#f050d4"/>
<circle cx="215.1" cy="2327.4" r="5.9" fill="#f050d4"/>
<circle cx="220.0" cy="2323.4" r="5.9" fill="#f050d4"/>
<circle cx="220.8" cy="2316.7" r="5.9" fill="#f050d4"/>
<circle cx="218.5" cy="2289.3" r="5.9" fill="#f050d4"/>
<circle cx="220.0" cy="2274.0" r="5.9" fill="#f050d4"/>
<circle cx="229.5" cy="2287.0" r="5.9" fill="#f050d4"/>
<circle cx="225.2" cy="2231.6" r="5.9" fill="#f050d4"/>
<circle cx="226.6" cy="2220.9" r="5.9" fill="#f050d4"/>
<circle cx="230.9" cy="2200.7" r="5.9" fill="#f050d4"/>
<circle cx="233.3" cy="2233.6" r="5.9" fill="#f050d4"/>
<circle cx="255.5" cy="2292.2" r="5.9" fill="#f050d4"/>
<circle cx="255.5" cy="2324.8" r="5.9" fill="#f050d4"/>
<circle cx="258.9" cy="2344.2" r="5.9" fill="#f050d4"/>
<circle cx="263.3" cy="2246.6" r="5.9" fill="#f050d4"/>
<circle cx="280.0" cy="2224.4" r="5.9" fill="#f050d4"/>
<circle cx="282.9" cy="2273.4" r="5.9" fill="#f050d4"/>
<circle cx="286.4" cy="2253.2" r="5.9" fill="#f050d4"/>
<circle cx="330.0" cy="2310.4" r="5.9" fill="#f050d4"/>
<circle cx="358.8" cy="2291.6" r="5.9" fill="#f050d4"/>
<circle cx="374.4" cy="2122.7" r="5.9" fill="#f050d4"/>
<line x1="145.8" y1="2314.4" x2="374.4" y2="2224.3" stroke="#000" stroke-width="3" stroke-linecap="butt"/>
<text x="496.5" y="2010.3" font-size="43.5" font-weight="bold">N</text>
<line x1="624.3" y1="2049.2" x2="624.3" y2="2378.4" stroke="#000" stroke-width="3.1" stroke-linecap="butt"/>
<line x1="615.7" y1="2376.8" x2="944.8" y2="2376.8" stroke="#000" stroke-width="3.2" stroke-linecap="butt"/>
<line x1="615.7" y1="2050.6" x2="624.3" y2="2050.6" stroke="#000" stroke-width="3" stroke-linecap="butt"/>
<text x="611.5" y="2059.0" font-size="23.5" text-anchor="end">200</text>
<line x1="615.7" y1="2105.1" x2="624.3" y2="2105.1" stroke="#000" stroke-width="3" stroke-linecap="butt"/>
<text x="611.5" y="2113.5" font-size="23.5" text-anchor="end">150</text>
<line x1="615.7" y1="2159.4" x2="624.3" y2="2159.4" stroke="#000" stroke-width="3" stroke-linecap="butt"/>
<text x="611.5" y="2167.8" font-size="23.5" text-anchor="end">100</text>
<line x1="615.7" y1="2213.7" x2="624.3" y2="2213.7" stroke="#000" stroke-width="3" stroke-linecap="butt"/>
<text x="611.5" y="2222.1" font-size="23.5" text-anchor="end">50</text>
<line x1="615.7" y1="2268.2" x2="624.3" y2="2268.2" stroke="#000" stroke-width="3" stroke-linecap="butt"/>
<text x="611.5" y="2276.6" font-size="23.5" text-anchor="end">0</text>
<line x1="615.7" y1="2323.1" x2="624.3" y2="2323.1" stroke="#000" stroke-width="3" stroke-linecap="butt"/>
<text x="611.5" y="2331.5" font-size="23.5" text-anchor="end">-50</text>
<line x1="615.7" y1="2376.8" x2="624.3" y2="2376.8" stroke="#000" stroke-width="3" stroke-linecap="butt"/>
<text x="611.5" y="2385.2" font-size="23.5" text-anchor="end">-100</text>
<line x1="703.7" y1="2376.8" x2="703.7" y2="2386.2" stroke="#000" stroke-width="3" stroke-linecap="butt"/>
<line x1="864.0" y1="2376.8" x2="864.0" y2="2386.2" stroke="#000" stroke-width="3" stroke-linecap="butt"/>
<text x="657.6" y="2410.7" font-size="23.5" textLength="92.1" lengthAdjust="spacingAndGlyphs">sensitive</text>
<text x="818.4" y="2410.7" font-size="23.5" textLength="90.0" lengthAdjust="spacingAndGlyphs">resistant</text>
<text font-size="22.8" textLength="229.5" lengthAdjust="spacingAndGlyphs" transform="translate(525.7 2329.4) rotate(-90)">ZEB1 expression level</text>
<text font-size="17.6" textLength="258.1" lengthAdjust="spacingAndGlyphs" transform="translate(551.6 2343.0) rotate(-90)">(log2 normalized signal intensity)</text>
<path d="M704.6,2145 V2046.2 H864.8 V2072.2" fill="none" stroke="#000" stroke-width="1.1"/>
<text x="783.8" y="2042.2" font-size="22.5" text-anchor="middle">*</text>
<line x1="664.2" y1="2225.8" x2="743.3" y2="2225.8" stroke="#000" stroke-width="3" stroke-linecap="butt"/>
<line x1="703.7" y1="2195.5" x2="703.7" y2="2256.1" stroke="#000" stroke-width="3" stroke-linecap="butt"/>
<line x1="684.1" y1="2195.5" x2="723.4" y2="2195.5" stroke="#000" stroke-width="3" stroke-linecap="butt"/>
<line x1="684.1" y1="2256.1" x2="723.4" y2="2256.1" stroke="#000" stroke-width="3" stroke-linecap="butt"/>
<line x1="823.5" y1="2192.0" x2="902.9" y2="2192.0" stroke="#000" stroke-width="3" stroke-linecap="butt"/>
<line x1="864.0" y1="2148.4" x2="864.0" y2="2235.0" stroke="#000" stroke-width="3" stroke-linecap="butt"/>
<line x1="843.7" y1="2148.4" x2="882.7" y2="2148.4" stroke="#000" stroke-width="3" stroke-linecap="butt"/>
<line x1="843.7" y1="2235.0" x2="882.7" y2="2235.0" stroke="#000" stroke-width="3" stroke-linecap="butt"/>
<circle cx="694.5" cy="2152.8" r="6.1" fill="#f050d4"/>
<circle cx="713.3" cy="2170.1" r="6.1" fill="#f050d4"/>
<circle cx="673.4" cy="2207.9" r="6.1" fill="#f050d4"/>
<circle cx="734.0" cy="2208.5" r="6.1" fill="#f050d4"/>
<circle cx="688.4" cy="2218.0" r="6.1" fill="#f050d4"/>
<circle cx="703.7" cy="2221.5" r="6.1" fill="#f050d4"/>
<circle cx="719.0" cy="2219.4" r="6.1" fill="#f050d4"/>
<circle cx="674.9" cy="2230.1" r="6.1" fill="#f050d4"/>
<circle cx="694.2" cy="2235.9" r="6.1" fill="#f050d4"/>
<circle cx="731.7" cy="2233.9" r="6.1" fill="#f050d4"/>
<circle cx="673.4" cy="2244.6" r="6.1" fill="#f050d4"/>
<circle cx="713.3" cy="2243.7" r="6.1" fill="#f050d4"/>
<circle cx="734.0" cy="2248.3" r="6.1" fill="#f050d4"/>
<circle cx="688.4" cy="2255.5" r="6.1" fill="#f050d4"/>
<circle cx="719.0" cy="2261.3" r="6.1" fill="#f050d4"/>
<circle cx="703.7" cy="2263.9" r="6.1" fill="#f050d4"/>
<rect x="857.4" y="2087.1" width="13" height="13" fill="#40e9b0"/>
<rect x="847.3" y="2148.6" width="13" height="13" fill="#40e9b0"/>
<rect x="874.8" y="2161.6" width="13" height="13" fill="#40e9b0"/>
<rect x="847.3" y="2170.2" width="13" height="13" fill="#40e9b0"/>
<rect x="884.9" y="2168.8" width="13" height="13" fill="#40e9b0"/>
<rect x="866.1" y="2180.9" width="13" height="13" fill="#40e9b0"/>
<rect x="837.8" y="2186.1" width="13" height="13" fill="#40e9b0"/>
<rect x="847.3" y="2201.1" width="13" height="13" fill="#40e9b0"/>
<rect x="866.1" y="2214.4" width="13" height="13" fill="#40e9b0"/>
<rect x="837.8" y="2230.3" width="13" height="13" fill="#40e9b0"/>
<rect x="874.8" y="2235.2" width="13" height="13" fill="#40e9b0"/>
<rect x="856.9" y="2240.1" width="13" height="13" fill="#40e9b0"/>
<text x="984.5" y="2010.5" font-size="43.5" font-weight="bold">O</text>
<text x="1169.4" y="2009.4" font-size="16.6" textLength="135.6" lengthAdjust="spacingAndGlyphs" font-weight="bold">ZEB1 (239952_at)</text>
<path d="M1418.1,2030.1 V2331.2 H1056.7" fill="none" stroke="#3c3c3c" stroke-width="0.95"/><path d="M1050,2040.2 H1056.7 M1050,2207.9 H1056.7 M1050,2319 H1058.5" fill="none" stroke="#3c3c3c" stroke-width="1.2"/>
<line x1="1056.7" y1="2331.2" x2="1056.7" y2="2337.0" stroke="#3c3c3c" stroke-width="1.2" stroke-linecap="butt"/>
<text x="1056.7" y="2354.9" font-size="17.0" text-anchor="middle">0</text>
<text x="1056.7" y="2405.5" font-size="11.6" text-anchor="middle">489</text>
<text x="1056.7" y="2417.9" font-size="11.6" text-anchor="middle" fill="#f03030">166</text>
<line x1="1128.2" y1="2331.2" x2="1128.2" y2="2337.0" stroke="#3c3c3c" stroke-width="1.2" stroke-linecap="butt"/>
<text x="1128.2" y="2354.9" font-size="17.0" text-anchor="middle">50</text>
<text x="1128.2" y="2405.5" font-size="11.6" text-anchor="middle">134</text>
<text x="1128.2" y="2417.9" font-size="11.6" text-anchor="middle" fill="#f03030">32</text>
<line x1="1199.8" y1="2331.2" x2="1199.8" y2="2337.0" stroke="#3c3c3c" stroke-width="1.2" stroke-linecap="butt"/>
<text x="1199.8" y="2354.9" font-size="17.0" text-anchor="middle">100</text>
<text x="1199.8" y="2405.5" font-size="11.6" text-anchor="middle">36</text>
<text x="1199.8" y="2417.9" font-size="11.6" text-anchor="middle" fill="#f03030">12</text>
<line x1="1271.3" y1="2331.2" x2="1271.3" y2="2337.0" stroke="#3c3c3c" stroke-width="1.2" stroke-linecap="butt"/>
<text x="1271.3" y="2354.9" font-size="17.0" text-anchor="middle">150</text>
<text x="1271.3" y="2405.5" font-size="11.6" text-anchor="middle">7</text>
<text x="1271.3" y="2417.9" font-size="11.6" text-anchor="middle" fill="#f03030">1</text>
<line x1="1342.9" y1="2331.2" x2="1342.9" y2="2337.0" stroke="#3c3c3c" stroke-width="1.2" stroke-linecap="butt"/>
<text x="1342.9" y="2354.9" font-size="17.0" text-anchor="middle">200</text>
<text x="1342.9" y="2405.5" font-size="11.6" text-anchor="middle">2</text>
<text x="1342.9" y="2417.9" font-size="11.6" text-anchor="middle" fill="#f03030">0</text>
<line x1="1414.5" y1="2331.2" x2="1414.5" y2="2337.0" stroke="#3c3c3c" stroke-width="1.2" stroke-linecap="butt"/>
<text x="1414.5" y="2354.9" font-size="17.0" text-anchor="middle">250</text>
<text x="1414.5" y="2405.5" font-size="11.6" text-anchor="middle">0</text>
<text x="1414.5" y="2417.9" font-size="11.6" text-anchor="middle" fill="#f03030">0</text>
<text font-size="17" text-anchor="middle" transform="translate(1041.7 2040.2) rotate(-90)">1.0</text>
<text font-size="17" text-anchor="middle" transform="translate(1041.7 2096.5) rotate(-90)">0.8</text>
<text font-size="17" text-anchor="middle" transform="translate(1041.7 2152.2) rotate(-90)">0.6</text>
<text font-size="17" text-anchor="middle" transform="translate(1041.7 2207.9) rotate(-90)">0.4</text>
<text font-size="17" text-anchor="middle" transform="translate(1041.7 2263.9) rotate(-90)">0.2</text>
<text font-size="17" text-anchor="middle" transform="translate(1041.7 2319.0) rotate(-90)">0.0</text>
<text font-size="16.5" textLength="75.8" lengthAdjust="spacingAndGlyphs" transform="translate(1014.6 2217.9) rotate(-90)">Probability</text>
<text x="1237.2" y="2381.2" font-size="16.8" text-anchor="middle" textLength="106.0" lengthAdjust="spacingAndGlyphs">Time (months)</text>
<text x="1249.1" y="2051.2" font-size="16.6" textLength="162.1" lengthAdjust="spacingAndGlyphs">HR = 1.6 (1.28 − 1.99)</text>
<text x="1265.0" y="2070.3" font-size="16.6" textLength="146.2" lengthAdjust="spacingAndGlyphs">logrank P = 2.2e−05</text>
<text x="1064.0" y="2278.4" font-size="16.6" textLength="81.1" lengthAdjust="spacingAndGlyphs">Expression</text>
<text x="1114.5" y="2300.9" font-size="16.6" textLength="26.0" lengthAdjust="spacingAndGlyphs">low</text>
<text x="1114.5" y="2318.2" font-size="16.6" textLength="31.2" lengthAdjust="spacingAndGlyphs">high</text>
<line x1="1071.1" y1="2313.8" x2="1100.1" y2="2313.8" stroke="#f03030" stroke-width="1.2" stroke-linecap="butt"/>
<text x="1056.1" y="2393.3" font-size="11.6" textLength="71.1" lengthAdjust="spacingAndGlyphs">Number at risk</text>
<text x="1040.7" y="2405.5" font-size="11.6" text-anchor="end">low</text>
<text x="1040.7" y="2417.9" font-size="11.6" text-anchor="end" fill="#f03030">high</text>
<polyline points="1050.1,2040.2 1056.7,2040.2 1062.5,2042.5 1064.5,2046.8 1068.3,2051.1 1071.1,2056.9 1074.0,2064.1 1076.1,2069.9 1078.4,2075.7 1080.7,2082.9 1082.7,2088.7 1085.6,2094.4 1088.5,2100.2 1090.5,2106.0 1092.8,2111.8 1095.7,2118.4 1098.6,2124.8 1101.5,2132.0 1104.3,2139.2 1107.2,2143.5 1110.1,2147.9 1113.6,2154.2 1117.3,2159.4 1120.2,2163.7 1123.1,2168.1 1125.1,2173.3 1127.4,2178.2 1130.3,2185.4 1133.2,2192.6 1137.5,2197.5 1141.9,2202.7 1145.3,2207.9 1149.1,2212.8 1152.8,2217.1 1156.3,2221.5 1159.2,2225.8 1162.1,2230.1 1165.0,2233.0 1167.9,2235.0 1175.1,2237.3 1188.1,2241.7 1190.9,2246.0 1202.5,2247.4 1211.2,2250.3 1215.5,2259.0 1219.8,2261.9 1229.9,2262.7 1229.9,2267.7" fill="none" stroke="#1a1a1a" stroke-width="1.15" stroke-linejoin="round"/>
<polyline points="1296.3,2265.6 1296.3,2279.2 1406.9,2279.2" fill="none" stroke="#1a1a1a" stroke-width="1.15" stroke-linejoin="round"/>
<polyline points="1056.7,2040.2 1059.6,2042.5 1062.5,2045.4 1065.4,2051.1 1068.3,2055.5 1071.1,2063.6 1074.0,2071.4 1075.5,2078.6 1076.9,2084.3 1078.4,2093.0 1079.8,2101.7 1081.2,2110.3 1082.7,2116.1 1084.7,2126.2 1087.0,2136.3 1088.8,2141.5 1089.9,2145.0 1091.6,2153.6 1093.4,2162.3 1094.5,2167.5 1095.7,2170.9 1098.0,2175.3 1100.0,2178.2 1102.0,2183.1 1103.5,2186.8 1105.5,2194.0 1107.2,2199.8 1108.7,2207.0 1110.1,2214.2 1111.6,2218.6 1113.0,2221.5" fill="none" stroke="#f02828" stroke-width="1.15" stroke-linejoin="round"/>
<polyline points="1114.4,2226.4 1115.9,2227.2" fill="none" stroke="#f02828" stroke-width="1.15" stroke-linejoin="round"/>
<polyline points="1121.7,2245.4 1135.5,2245.4 1135.5,2251.2 1139.0,2251.2 1144.8,2254.7 1144.8,2258.4 1159.2,2258.4 1159.2,2263.9" fill="none" stroke="#f02828" stroke-width="1.15" stroke-linejoin="round"/>
<polyline points="1167.9,2267.1 1192.4,2267.1 1192.4,2269.7" fill="none" stroke="#f02828" stroke-width="1.15" stroke-linejoin="round"/>
<polyline points="1261.1,2278.3 1261.1,2291.3 1274.7,2291.3" fill="none" stroke="#f02828" stroke-width="1.15" stroke-linejoin="round"/>
<path d="M1062.5,2039.9V2046.7M1059.1,2043.3H1065.9M1064.5,2044.0V2050.8M1061.1,2047.4H1067.9M1069.1,2049.8V2056.6M1065.7,2053.2H1072.5M1074.0,2059.3V2066.1M1070.6,2062.7H1077.4M1075.5,2065.1V2071.9M1072.1,2068.5H1078.9M1077.8,2071.7V2078.5M1074.4,2075.1H1081.2M1081.2,2080.4V2087.2M1077.8,2083.8H1084.6M1084.1,2086.7V2093.5M1080.7,2090.1H1087.5M1085.9,2091.9V2098.7M1082.5,2095.3H1089.3M1087.6,2094.8V2101.6M1084.2,2098.2H1091.0M1089.3,2098.3V2105.1M1085.9,2101.7H1092.7M1091.4,2104.0V2110.8M1088.0,2107.4H1094.8M1093.4,2109.2V2116.0M1090.0,2112.6H1096.8M1095.7,2115.6V2122.4M1092.3,2119.0H1099.1M1098.0,2119.9V2126.7M1094.6,2123.3H1101.4M1100.0,2125.7V2132.5M1096.6,2129.1H1103.4M1102.0,2129.4V2136.2M1098.6,2132.8H1105.4M1106.7,2140.1V2146.9M1103.3,2143.5H1110.1M1108.7,2142.1V2148.9M1105.3,2145.5H1112.1M1110.7,2145.9V2152.7M1107.3,2149.3H1114.1M1113.0,2149.6V2156.4M1109.6,2153.0H1116.4M1115.3,2153.1V2159.9M1111.9,2156.5H1118.7M1118.2,2157.4V2164.2M1114.8,2160.8H1121.6M1120.5,2160.3V2167.1M1117.1,2163.7H1123.9M1122.2,2162.4V2169.2M1118.8,2165.8H1125.6M1124.5,2166.1V2172.9M1121.1,2169.5H1127.9M1126.9,2173.9V2180.7M1123.5,2177.3H1130.3M1128.6,2175.6V2182.4M1125.2,2179.0H1132.0M1130.3,2176.8V2183.6M1126.9,2180.2H1133.7M1134.7,2190.6V2197.4M1131.3,2194.0H1138.1M1136.7,2192.1V2198.9M1133.3,2195.5H1140.1M1142.4,2199.9V2206.7M1139.0,2203.3H1145.8M1152.8,2212.3V2219.1M1149.4,2215.7H1156.2M1156.9,2218.9V2225.7M1153.5,2222.3H1160.3M1158.6,2221.8V2228.6M1155.2,2225.2H1162.0M1163.5,2227.6V2234.4M1160.1,2231.0H1166.9M1165.5,2230.5V2237.3M1162.1,2233.9H1168.9M1168.4,2232.2V2239.0M1165.0,2235.6H1171.8M1171.3,2233.4V2240.2M1167.9,2236.8H1174.7M1176.5,2235.4V2242.2M1179.4,2235.4V2242.2M1182.3,2236.3V2243.1M1187.5,2237.4V2244.2M1190.4,2242.6V2249.4M1187.0,2246.0H1193.8M1199.6,2244.0V2250.8M1203.1,2244.9V2251.7M1206.0,2246.1V2252.9M1212.6,2248.4V2255.2M1214.6,2252.7V2259.5M1216.9,2256.5V2263.3M1213.5,2259.9H1220.3M1219.8,2258.5V2265.3M1216.4,2261.9H1223.2M1222.7,2258.5V2265.3M1219.3,2261.9H1226.1M1241.5,2262.2V2269.0M1256.8,2262.2V2269.0M1266.0,2262.2V2269.0M1290.5,2262.2V2269.0M1294.0,2262.2V2269.0M1331.5,2275.8V2282.6M1363.3,2275.8V2282.6M1063.6,2041.4V2048.2M1060.2,2044.8H1067.0M1070.1,2051.5V2058.3M1066.7,2054.9H1073.5M1074.7,2062.7V2069.5M1071.3,2066.1H1078.1M1078.9,2074.1V2080.9M1075.5,2077.5H1082.3M1082.8,2085.6V2092.4M1079.4,2089.0H1086.2M1088.3,2096.4V2103.2M1084.9,2099.8H1091.7M1092.5,2107.7V2114.5M1089.1,2111.1H1095.9M1097.4,2118.8V2125.6M1094.0,2122.2H1100.8M1102.0,2130.1V2136.9M1098.6,2133.5H1105.4M1107.6,2140.7V2147.5M1104.2,2144.1H1111.0M1113.8,2151.1V2157.9M1110.4,2154.5H1117.2M1120.7,2161.1V2167.9M1117.3,2164.5H1124.1M1126.1,2171.9V2178.7M1122.7,2175.3H1129.5M1130.8,2183.1V2189.9M1127.4,2186.5H1134.2M1136.9,2193.4V2200.2M1133.5,2196.8H1140.3M1144.3,2202.9V2209.7M1140.9,2206.3H1147.7M1151.8,2212.5V2219.3M1148.4,2215.9H1155.2M1159.0,2222.2V2229.0M1155.6,2225.6H1162.4M1167.1,2231.1V2237.9M1163.7,2234.5H1170.5M1178.5,2235.1V2241.9M1175.1,2238.5H1181.9M1189.2,2240.0V2246.8M1185.8,2243.4H1192.6M1199.8,2243.7V2250.5M1196.4,2247.1H1203.2M1211.3,2247.2V2254.0M1207.9,2250.6H1214.7M1217.8,2257.1V2263.9M1214.4,2260.5H1221.2" fill="none" stroke="#1a1a1a" stroke-width="1.1"/>
<path d="M1059.6,2039.1V2045.9M1056.2,2042.5H1063.0M1066.8,2051.5V2058.3M1063.4,2054.9H1070.2M1070.3,2053.5V2060.3M1066.9,2056.9H1073.7M1073.2,2068.8V2075.6M1069.8,2072.2H1076.6M1081.8,2111.3V2118.1M1078.4,2114.7H1085.2M1087.6,2132.9V2139.7M1084.2,2136.3H1091.0M1089.0,2141.6V2148.4M1085.6,2145.0H1092.4M1096.3,2168.1V2174.9M1092.9,2171.5H1099.7M1098.0,2171.0V2177.8M1094.6,2174.4H1101.4M1100.0,2174.8V2181.6M1096.6,2178.2H1103.4M1102.0,2179.7V2186.5M1098.6,2183.1H1105.4M1103.8,2184.3V2191.1M1100.4,2187.7H1107.2M1108.4,2200.7V2207.5M1105.0,2204.1H1111.8M1118.2,2231.6V2238.4M1114.8,2235.0H1121.6M1119.4,2232.8V2239.6M1116.0,2236.2H1122.8M1151.1,2255.0V2261.8M1147.7,2258.4H1154.5M1170.7,2263.7V2270.5M1167.3,2267.1H1174.1M1185.8,2263.7V2270.5M1182.4,2267.1H1189.2M1196.7,2267.1V2273.9M1199.6,2267.1V2273.9M1221.3,2267.1V2273.9M1229.9,2267.1V2273.9M1232.8,2267.1V2273.9M1247.8,2273.8V2280.6" fill="none" stroke="#f02828" stroke-width="1.1"/>
<text x="1489.5" y="2010.5" font-size="43.5" font-weight="bold">P</text>
<text x="1669.6" y="2009.4" font-size="16.6" textLength="134.9" lengthAdjust="spacingAndGlyphs" font-weight="bold">ZEB1 (239952_at)</text>
<path d="M1556.8,2030.1 V2331.2 M1549.6,2331.2 H1916.2" fill="none" stroke="#3c3c3c" stroke-width="0.95"/><path d="M1550,2040.2 H1556.8 M1550,2207.9 H1556.8 M1550,2319 H1558.5" fill="none" stroke="#3c3c3c" stroke-width="1.2"/>
<line x1="1556.8" y1="2331.2" x2="1556.8" y2="2337.0" stroke="#3c3c3c" stroke-width="1.2" stroke-linecap="butt"/>
<text x="1556.8" y="2354.9" font-size="17.0" text-anchor="middle">0</text>
<text x="1556.8" y="2405.5" font-size="11.6" text-anchor="middle">459</text>
<text x="1556.8" y="2417.9" font-size="11.6" text-anchor="middle" fill="#f03030">155</text>
<line x1="1628.3" y1="2331.2" x2="1628.3" y2="2337.0" stroke="#3c3c3c" stroke-width="1.2" stroke-linecap="butt"/>
<text x="1628.3" y="2354.9" font-size="17.0" text-anchor="middle">50</text>
<text x="1628.3" y="2405.5" font-size="11.6" text-anchor="middle">43</text>
<text x="1628.3" y="2417.9" font-size="11.6" text-anchor="middle" fill="#f03030">11</text>
<line x1="1699.9" y1="2331.2" x2="1699.9" y2="2337.0" stroke="#3c3c3c" stroke-width="1.2" stroke-linecap="butt"/>
<text x="1699.9" y="2354.9" font-size="17.0" text-anchor="middle">100</text>
<text x="1699.9" y="2405.5" font-size="11.6" text-anchor="middle">12</text>
<text x="1699.9" y="2417.9" font-size="11.6" text-anchor="middle" fill="#f03030">4</text>
<line x1="1771.4" y1="2331.2" x2="1771.4" y2="2337.0" stroke="#3c3c3c" stroke-width="1.2" stroke-linecap="butt"/>
<text x="1771.4" y="2354.9" font-size="17.0" text-anchor="middle">150</text>
<text x="1771.4" y="2405.5" font-size="11.6" text-anchor="middle">2</text>
<text x="1771.4" y="2417.9" font-size="11.6" text-anchor="middle" fill="#f03030">0</text>
<line x1="1843.0" y1="2331.2" x2="1843.0" y2="2337.0" stroke="#3c3c3c" stroke-width="1.2" stroke-linecap="butt"/>
<text x="1843.0" y="2354.9" font-size="17.0" text-anchor="middle">200</text>
<text x="1843.0" y="2405.5" font-size="11.6" text-anchor="middle">1</text>
<text x="1843.0" y="2417.9" font-size="11.6" text-anchor="middle" fill="#f03030">0</text>
<line x1="1914.5" y1="2331.2" x2="1914.5" y2="2337.0" stroke="#3c3c3c" stroke-width="1.2" stroke-linecap="butt"/>
<text x="1914.5" y="2354.9" font-size="17.0" text-anchor="middle">250</text>
<text x="1914.5" y="2405.5" font-size="11.6" text-anchor="middle">0</text>
<text x="1914.5" y="2417.9" font-size="11.6" text-anchor="middle" fill="#f03030">0</text>
<text font-size="17" text-anchor="middle" transform="translate(1541.8 2040.2) rotate(-90)">1.0</text>
<text font-size="17" text-anchor="middle" transform="translate(1541.8 2096.5) rotate(-90)">0.8</text>
<text font-size="17" text-anchor="middle" transform="translate(1541.8 2152.2) rotate(-90)">0.6</text>
<text font-size="17" text-anchor="middle" transform="translate(1541.8 2207.9) rotate(-90)">0.4</text>
<text font-size="17" text-anchor="middle" transform="translate(1541.8 2263.9) rotate(-90)">0.2</text>
<text font-size="17" text-anchor="middle" transform="translate(1541.8 2319.0) rotate(-90)">0.0</text>
<text font-size="16.5" textLength="75.8" lengthAdjust="spacingAndGlyphs" transform="translate(1514.7 2217.9) rotate(-90)">Probability</text>
<text x="1737.3" y="2381.2" font-size="16.8" text-anchor="middle" textLength="106.0" lengthAdjust="spacingAndGlyphs">Time (months)</text>
<text x="1757.9" y="2051.2" font-size="16.6" textLength="152.9" lengthAdjust="spacingAndGlyphs">HR = 1.6 (1.3 − 1.97)</text>
<text x="1764.3" y="2070.3" font-size="16.6" textLength="146.5" lengthAdjust="spacingAndGlyphs">logrank P = 7.1e−06</text>
<text x="1564.1" y="2278.4" font-size="16.6" textLength="81.1" lengthAdjust="spacingAndGlyphs">Expression</text>
<text x="1614.6" y="2300.9" font-size="16.6" textLength="26.0" lengthAdjust="spacingAndGlyphs">low</text>
<text x="1614.6" y="2318.2" font-size="16.6" textLength="31.2" lengthAdjust="spacingAndGlyphs">high</text>
<line x1="1571.2" y1="2313.8" x2="1600.2" y2="2313.8" stroke="#f03030" stroke-width="1.2" stroke-linecap="butt"/>
<text x="1556.2" y="2393.3" font-size="11.6" textLength="71.1" lengthAdjust="spacingAndGlyphs">Number at risk</text>
<text x="1540.8" y="2405.5" font-size="11.6" text-anchor="end">low</text>
<text x="1540.8" y="2417.9" font-size="11.6" text-anchor="end" fill="#f03030">high</text>
<polyline points="1556.8,2048.3 1558.3,2052.0 1559.7,2055.5 1561.4,2059.8 1563.2,2064.1 1564.3,2071.4 1565.5,2078.6 1566.9,2084.3 1568.4,2090.1 1569.8,2098.8 1571.2,2107.4 1572.7,2117.5 1574.1,2127.6 1575.6,2136.3 1577.0,2145.0 1578.8,2153.6 1580.5,2162.3 1581.9,2170.9 1583.4,2179.6 1585.1,2186.0 1587.1,2192.6 1589.1,2199.2 1591.5,2205.6 1592.9,2211.9 1594.3,2218.6 1596.7,2221.5 1598.7,2224.4 1600.7,2228.1 1603.0,2231.6 1605.3,2234.5 1607.3,2237.3 1610.2,2240.2 1613.1,2242.5 1617.4,2244.0 1621.8,2245.4 1625.5,2247.2 1629.0,2248.9 1629.0,2257.0 1640.5,2257.6" fill="none" stroke="#1a1a1a" stroke-width="1.15" stroke-linejoin="round"/>
<polyline points="1663.6,2259.9 1668.0,2261.0 1672.3,2262.7 1675.2,2265.6 1678.1,2267.7 1680.9,2269.1 1683.8,2270.0 1693.9,2270.0" fill="none" stroke="#1a1a1a" stroke-width="1.15" stroke-linejoin="round"/>
<polyline points="1556.8,2041.0 1557.1,2061.2 1557.4,2072.8 1559.1,2076.3 1561.1,2080.0 1562.6,2090.1 1564.0,2098.8 1565.5,2108.9 1566.9,2119.0 1568.1,2127.1 1568.9,2133.4 1570.1,2146.4 1571.2,2159.4 1572.1,2168.1 1572.7,2175.3 1573.8,2183.9 1574.7,2191.2 1575.6,2201.3 1576.2,2211.4 1577.3,2217.1 1578.5,2221.5 1579.9,2225.2 1581.4,2228.7" fill="none" stroke="#f02828" stroke-width="1.15" stroke-linejoin="round"/>
<polyline points="1583.4,2235.0 1585.7,2240.2" fill="none" stroke="#f02828" stroke-width="1.15" stroke-linejoin="round"/>
<polyline points="1587.4,2244.6 1590.0,2250.3" fill="none" stroke="#f02828" stroke-width="1.15" stroke-linejoin="round"/>
<polyline points="1591.5,2254.1 1594.3,2260.4 1598.7,2266.2 1604.4,2269.1" fill="none" stroke="#f02828" stroke-width="1.15" stroke-linejoin="round"/>
<polyline points="1686.1,2286.4 1686.1,2292.2 1744.5,2292.2" fill="none" stroke="#f02828" stroke-width="1.15" stroke-linejoin="round"/>
<path d="M1559.7,2052.7V2059.5M1556.3,2056.1H1563.1M1563.2,2060.7V2067.5M1559.8,2064.1H1566.6M1564.9,2075.7V2082.5M1561.5,2079.1H1568.3M1567.8,2086.1V2092.9M1564.4,2089.5H1571.2M1568.9,2093.9V2100.7M1565.5,2097.3H1572.3M1571.2,2104.6V2111.4M1567.8,2108.0H1574.6M1576.4,2142.1V2148.9M1573.0,2145.5H1579.8M1578.2,2147.9V2154.7M1574.8,2151.3H1581.6M1581.4,2160.3V2167.1M1578.0,2163.7H1584.8M1582.8,2166.1V2172.9M1579.4,2169.5H1586.2M1583.9,2174.8V2181.6M1585.7,2184.3V2191.1M1582.3,2187.7H1589.1M1588.0,2189.2V2196.0M1584.6,2192.6H1591.4M1596.7,2216.6V2223.4M1593.3,2220.0H1600.1M1598.4,2219.5V2226.3M1595.0,2222.9H1601.8M1600.1,2223.8V2230.6M1596.7,2227.2H1603.5M1602.4,2227.6V2234.4M1599.0,2231.0H1605.8M1604.7,2231.1V2237.9M1601.3,2234.5H1608.1M1606.5,2233.4V2240.2M1603.1,2236.8H1609.9M1609.4,2235.7V2242.5M1606.0,2239.1H1612.8M1616.0,2240.3V2247.1M1612.6,2243.7H1619.4M1620.3,2242.0V2248.8M1616.9,2245.4H1623.7M1626.1,2244.9V2251.7M1622.7,2248.3H1629.5M1646.3,2255.6V2262.4M1656.4,2255.6V2262.4M1663.6,2256.5V2263.3M1660.2,2259.9H1667.0M1666.5,2257.6V2264.4M1663.1,2261.0H1669.9M1668.8,2258.5V2265.3M1665.4,2261.9H1672.2M1670.8,2258.8V2265.6M1667.4,2262.2H1674.2M1684.4,2266.6V2273.4M1681.0,2270.0H1687.8M1689.6,2266.6V2273.4M1686.2,2270.0H1693.0M1700.6,2272.9V2279.7M1702.6,2280.1V2286.9M1714.7,2281.6V2288.4M1715.3,2281.6V2288.4M1722.8,2281.6V2288.4M1766.7,2281.6V2288.4M1793.5,2281.6V2288.4M1559.5,2051.5V2058.3M1556.1,2054.9H1562.9M1563.8,2064.6V2071.4M1560.4,2068.0H1567.2M1566.2,2078.3V2085.1M1562.8,2081.7H1569.6M1569.2,2091.8V2098.6M1565.8,2095.2H1572.6M1571.5,2105.5V2112.3M1568.1,2108.9H1574.9M1573.4,2119.2V2126.0M1570.0,2122.6H1576.8M1575.6,2132.9V2139.7M1572.2,2136.3H1579.0M1578.0,2146.5V2153.3M1574.6,2149.9H1581.4M1580.7,2160.1V2166.9M1577.3,2163.5H1584.1M1583.0,2173.8V2180.6M1579.6,2177.2H1586.4M1586.5,2187.2V2194.0M1583.1,2190.6H1589.9M1590.8,2200.3V2207.1M1587.4,2203.7H1594.2M1594.0,2213.8V2220.6M1590.6,2217.2H1597.4M1601.2,2225.5V2232.3M1597.8,2228.9H1604.6M1609.7,2236.4V2243.2M1606.3,2239.8H1613.1M1622.1,2242.2V2249.0M1618.7,2245.6H1625.5" fill="none" stroke="#1a1a1a" stroke-width="1.1"/>
<path d="M1557.4,2070.0V2076.8M1554.0,2073.4H1560.8M1561.1,2076.6V2083.4M1557.7,2080.0H1564.5M1568.4,2129.4V2136.2M1565.0,2132.8H1571.8M1572.4,2172.7V2179.5M1569.0,2176.1H1575.8M1573.6,2180.5V2187.3M1570.2,2183.9H1577.0M1576.4,2209.4V2216.2M1573.0,2212.8H1579.8M1577.9,2216.0V2222.8M1574.5,2219.4H1581.3M1579.3,2218.9V2225.7M1575.9,2222.3H1582.7M1580.5,2221.8V2228.6M1577.1,2225.2H1583.9M1598.7,2262.8V2269.6M1595.3,2266.2H1602.1M1624.7,2275.8V2282.6M1621.3,2279.2H1628.1M1632.4,2281.6V2288.4M1635.6,2281.6V2288.4M1649.8,2281.6V2288.4M1659.3,2281.6V2288.4M1676.6,2281.6V2288.4M1730.6,2288.8V2295.6M1732.9,2288.8V2295.6" fill="none" stroke="#f02828" stroke-width="1.1"/>
</svg>
</body></html>
